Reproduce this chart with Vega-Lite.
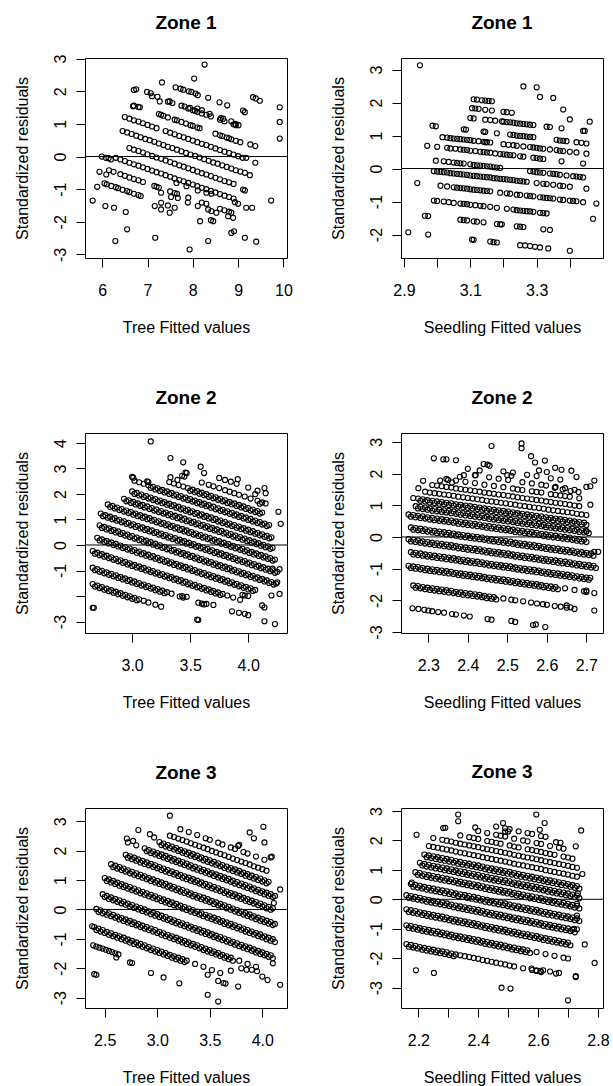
{
"$schema":"https://vega.github.io/schema/vega-lite/v6.json",
"background":"white",
"padding":{"left":13,"top":13,"right":5,"bottom":5},
"config":{
"font":"Liberation Sans",
"locale":{"number":{"decimal":".","thousands":",","grouping":[3],"currency":["$",""],"minus":"-"}},
"view":{"stroke":"black","strokeWidth":1},
"axis":{"domain":false,"grid":false,"ticks":true,"tickColor":"black","tickWidth":1,"tickSize":9,"labelFont":"Liberation Sans","labelFontSize":16,"labelColor":"black","titleFont":"Liberation Sans","titleFontSize":16,"titleFontWeight":"normal","titleColor":"black","labelFlush":false,"labelOverlap":false},
"axisX":{"labelPadding":15,"titlePadding":21},
"axisY":{"labelAngle":-90,"labelAlign":"center","labelBaseline":"alphabetic","labelPadding":11,"titlePadding":25,"titleBaseline":"alphabetic"},
"title":{"font":"Liberation Sans","fontSize":19,"fontWeight":"bold","color":"black","anchor":"middle","frame":"group","baseline":"alphabetic","offset":25},
"point":{"shape":"circle","filled":false,"color":"black","size":26,"strokeWidth":1.1,"opacity":1}
},
"columns":2,
"spacing":{"row":175,"column":114},
"bounds":"flush",
"datasets":{
"p1":[
{"x":8.26,"y":2.82},{"x":8.03,"y":2.39},{"x":7.32,"y":2.27},{"x":6.75,"y":2.06},{"x":6.99,"y":1.98},{"x":7.07,"y":1.94},{"x":7.22,"y":1.83},{"x":7.62,"y":2.12},{"x":7.73,"y":2.08},{"x":7.79,"y":2.05},{"x":7.91,"y":2.0},{"x":7.97,"y":1.98},{"x":8.06,"y":1.93},{"x":8.11,"y":1.88},{"x":8.34,"y":1.8},{"x":8.59,"y":1.66},{"x":8.76,"y":1.57},{"x":9.11,"y":1.41},{"x":9.15,"y":1.36},{"x":9.33,"y":1.82},{"x":9.39,"y":1.78},{"x":9.48,"y":1.71},{"x":9.92,"y":1.51},{"x":9.92,"y":1.06},{"x":9.92,"y":0.55},{"x":6.68,"y":1.54},{"x":6.83,"y":1.51},{"x":7.27,"y":1.69},{"x":7.49,"y":1.69},{"x":7.75,"y":1.56},{"x":7.82,"y":1.53},{"x":7.94,"y":1.49},{"x":8.1,"y":1.47},{"x":8.2,"y":1.42},{"x":8.37,"y":1.31},{"x":8.62,"y":1.18},{"x":8.67,"y":1.16},{"x":8.85,"y":1.08},{"x":8.94,"y":1.0},{"x":9.01,"y":0.96},{"x":9.27,"y":0.37},{"x":9.38,"y":0.32},{"x":9.38,"y":-0.19},{"x":9.18,"y":-0.04},{"x":9.15,"y":-0.5},{"x":9.26,"y":-0.57},{"x":9.73,"y":-1.35},{"x":9.18,"y":-1.57},{"x":9.31,"y":-1.57},{"x":9.15,"y":-2.49},{"x":9.4,"y":-2.61},{"x":8.91,"y":-2.29},{"x":8.85,"y":-2.34},{"x":8.89,"y":-1.88},{"x":8.78,"y":-1.83},{"x":8.34,"y":-2.59},{"x":7.93,"y":-2.85},{"x":7.17,"y":-2.49},{"x":6.29,"y":-2.59},{"x":6.55,"y":-2.23},{"x":6.52,"y":-1.7},{"x":6.26,"y":-1.57},{"x":6.07,"y":-1.52},{"x":5.79,"y":-1.35},{"x":5.89,"y":-0.93},{"x":5.94,"y":-0.47},{"x":5.99,"y":0},{"x":6.09,"y":-0.55},{"x":8.16,"y":-1.98},{"x":8.11,"y":-1.52},{"x":8.34,"y":-1.62},{"x":8.41,"y":-1.67},{"x":8.52,"y":-1.72},{"x":8.11,"y":-1.04},{"x":8.3,"y":-1.11},{"x":8.41,"y":-1.14},{"x":7.89,"y":-1.41},{"x":7.86,"y":-0.91},{"x":7.67,"y":-1.27},{"x":7.52,"y":-1.24},{"x":7.49,"y":-1.72},{"x":7.3,"y":-1.62},{"x":7.16,"y":-1.52},{"x":7.64,"y":-0.81},{"x":7.3,"y":-1.11},{"x":6.08,"y":-0.04},{"x":6.14,"y":-0.05},{"x":6.19,"y":-0.09},{"x":9.11,"y":-1.01},{"x":9.15,"y":-1.04},{"x":8.93,"y":-1.4},{"x":9.0,"y":-1.45},
{"x":6.5,"y":1.21},{"x":6.6,"y":1.16},{"x":6.7,"y":1.11},{"x":6.8,"y":1.07},{"x":6.9,"y":1.02},{"x":7.0,"y":0.97},{"x":7.1,"y":0.92},{"x":7.2,"y":0.87},{"x":7.4,"y":0.78},{"x":7.5,"y":0.73},{"x":7.6,"y":0.68},{"x":7.7,"y":0.63},{"x":7.8,"y":0.59},{"x":7.9,"y":0.54},{"x":8.0,"y":0.49},{"x":8.1,"y":0.44},{"x":8.2,"y":0.39},{"x":8.3,"y":0.35},{"x":8.4,"y":0.3},{"x":8.5,"y":0.25},{"x":8.6,"y":0.2},{"x":8.7,"y":0.15},{"x":8.8,"y":0.11},{"x":8.9,"y":0.06},{"x":9.0,"y":0.01},{"x":9.1,"y":-0.04},
{"x":6.45,"y":0.78},{"x":6.55,"y":0.74},{"x":6.65,"y":0.69},{"x":6.75,"y":0.64},{"x":6.85,"y":0.59},{"x":6.95,"y":0.54},{"x":7.05,"y":0.5},{"x":7.15,"y":0.45},{"x":7.25,"y":0.4},{"x":7.35,"y":0.35},{"x":7.45,"y":0.3},{"x":7.55,"y":0.26},{"x":7.65,"y":0.21},{"x":7.75,"y":0.16},{"x":7.85,"y":0.11},{"x":7.95,"y":0.06},{"x":8.05,"y":0.02},{"x":8.15,"y":-0.03},{"x":8.25,"y":-0.08},{"x":8.35,"y":-0.13},{"x":8.45,"y":-0.18},{"x":8.55,"y":-0.22},{"x":8.65,"y":-0.27},{"x":8.75,"y":-0.32},{"x":8.85,"y":-0.37},{"x":8.95,"y":-0.42},{"x":9.05,"y":-0.46},
{"x":6.6,"y":0.26},{"x":6.7,"y":0.21},{"x":6.8,"y":0.17},{"x":6.9,"y":0.12},{"x":7.0,"y":0.07},{"x":7.1,"y":0.02},{"x":7.2,"y":-0.03},{"x":7.3,"y":-0.07},{"x":7.4,"y":-0.12},{"x":7.5,"y":-0.17},{"x":7.6,"y":-0.22},{"x":7.7,"y":-0.27},{"x":7.8,"y":-0.31},{"x":7.9,"y":-0.36},{"x":8.0,"y":-0.41},{"x":8.1,"y":-0.46},{"x":8.2,"y":-0.51},{"x":8.3,"y":-0.55},{"x":8.4,"y":-0.6},{"x":8.5,"y":-0.65},{"x":8.6,"y":-0.7},{"x":8.7,"y":-0.75},{"x":8.8,"y":-0.79},{"x":8.9,"y":-0.84},
{"x":6.3,"y":-0.04},{"x":6.4,"y":-0.09},{"x":6.5,"y":-0.14},{"x":6.6,"y":-0.19},{"x":6.7,"y":-0.24},{"x":6.8,"y":-0.28},{"x":6.9,"y":-0.33},{"x":7.0,"y":-0.38},{"x":7.1,"y":-0.43},{"x":7.2,"y":-0.48},{"x":7.3,"y":-0.52},{"x":7.4,"y":-0.57},{"x":7.5,"y":-0.62},{"x":7.6,"y":-0.67},{"x":7.7,"y":-0.72},{"x":7.8,"y":-0.76},{"x":7.9,"y":-0.81},{"x":8.0,"y":-0.86},{"x":8.1,"y":-0.91},{"x":8.2,"y":-0.96},{"x":8.3,"y":-1.0},{"x":8.4,"y":-1.05},{"x":8.5,"y":-1.1},{"x":8.6,"y":-1.15},{"x":8.7,"y":-1.2},{"x":8.8,"y":-1.24},{"x":8.9,"y":-1.29},
{"x":6.15,"y":-0.42},{"x":6.25,"y":-0.47},{"x":6.4,"y":-0.54},{"x":6.5,"y":-0.59},{"x":6.6,"y":-0.64},{"x":6.7,"y":-0.69},{"x":6.8,"y":-0.73},{"x":6.9,"y":-0.78},{"x":7.15,"y":-0.9},{"x":7.2,"y":-0.93},{"x":7.25,"y":-0.95},{"x":7.5,"y":-1.07},{"x":7.6,"y":-1.12},{"x":7.65,"y":-1.14},{"x":7.9,"y":-1.26},{"x":8.2,"y":-1.41},{"x":8.3,"y":-1.45},{"x":8.6,"y":-1.6},{"x":8.7,"y":-1.65},{"x":8.8,"y":-1.69},{"x":8.85,"y":-1.72},
{"x":6.05,"y":-0.82},{"x":6.1,"y":-0.85},{"x":6.2,"y":-0.9},{"x":6.3,"y":-0.94},{"x":6.35,"y":-0.97},{"x":6.45,"y":-1.02},{"x":6.55,"y":-1.06},{"x":6.6,"y":-1.09},{"x":6.7,"y":-1.14},{"x":6.8,"y":-1.18},{"x":6.85,"y":-1.21},{"x":7.3,"y":-1.42},{"x":7.45,"y":-1.5},{"x":7.6,"y":-1.57},{"x":8.4,"y":-1.95},{"x":8.45,"y":-1.98},
{"x":6.7,"y":1.56},{"x":6.8,"y":1.52},{"x":7.25,"y":1.3},{"x":7.3,"y":1.28},{"x":7.35,"y":1.25},{"x":7.45,"y":1.2},{"x":7.6,"y":1.13},{"x":7.65,"y":1.11},{"x":7.75,"y":1.06},{"x":7.85,"y":1.01},{"x":7.95,"y":0.96},{"x":8.0,"y":0.94},{"x":8.1,"y":0.89},{"x":8.15,"y":0.87},{"x":8.5,"y":0.7},{"x":8.6,"y":0.65},{"x":8.65,"y":0.63},{"x":8.75,"y":0.58},{"x":8.8,"y":0.56},{"x":8.85,"y":0.53},{"x":8.95,"y":0.48},{"x":9.05,"y":0.44},
{"x":6.7,"y":2.04},{"x":7.1,"y":1.85},{"x":7.45,"y":1.68},{"x":7.55,"y":1.64},{"x":7.9,"y":1.47},{"x":8.0,"y":1.42},{"x":8.05,"y":1.4},{"x":8.1,"y":1.37},{"x":8.2,"y":1.32},{"x":8.3,"y":1.28},{"x":8.4,"y":1.23},{"x":8.6,"y":1.13},{"x":8.7,"y":1.08},{"x":8.9,"y":0.99},{"x":8.95,"y":0.96}
],
"p2":[
{"x":3.11,"y":2.1},{"x":3.12,"y":2.09},{"x":3.135,"y":2.07},{"x":3.145,"y":2.06},{"x":3.155,"y":2.05},{"x":3.165,"y":2.04},{"x":3.38,"y":1.79},
{"x":3.105,"y":1.83},{"x":3.115,"y":1.82},{"x":3.125,"y":1.81},{"x":3.145,"y":1.78},{"x":3.165,"y":1.76},{"x":3.2,"y":1.72},{"x":3.21,"y":1.71},{"x":3.225,"y":1.69},{"x":3.4,"y":1.49},{"x":3.46,"y":1.42},
{"x":3.1,"y":1.53},{"x":3.11,"y":1.52},{"x":3.145,"y":1.48},{"x":3.16,"y":1.47},{"x":3.175,"y":1.45},{"x":3.195,"y":1.43},{"x":3.2,"y":1.42},{"x":3.21,"y":1.41},{"x":3.22,"y":1.4},{"x":3.23,"y":1.39},{"x":3.24,"y":1.37},{"x":3.25,"y":1.36},{"x":3.26,"y":1.35},{"x":3.27,"y":1.34},{"x":3.28,"y":1.33},{"x":3.29,"y":1.32},{"x":3.33,"y":1.27},{"x":3.34,"y":1.26},{"x":3.375,"y":1.22},{"x":3.44,"y":1.14},{"x":3.445,"y":1.14},
{"x":2.986,"y":1.3},{"x":2.996,"y":1.28},{"x":3.08,"y":1.19},{"x":3.087,"y":1.18},{"x":3.14,"y":1.12},{"x":3.145,"y":1.11},{"x":3.18,"y":1.07},{"x":3.22,"y":1.03},{"x":3.23,"y":1.02},{"x":3.24,"y":1.0},{"x":3.25,"y":0.99},{"x":3.26,"y":0.98},{"x":3.27,"y":0.97},{"x":3.28,"y":0.96},{"x":3.29,"y":0.95},{"x":3.36,"y":0.87},{"x":3.37,"y":0.85},{"x":3.38,"y":0.84},{"x":3.39,"y":0.83},{"x":3.42,"y":0.8},{"x":3.435,"y":0.78},{"x":3.45,"y":0.76},
{"x":3.016,"y":0.95},{"x":3.03,"y":0.94},{"x":3.04,"y":0.92},{"x":3.05,"y":0.91},{"x":3.06,"y":0.9},{"x":3.07,"y":0.89},{"x":3.08,"y":0.88},{"x":3.09,"y":0.87},{"x":3.1,"y":0.86},{"x":3.11,"y":0.84},{"x":3.125,"y":0.83},{"x":3.14,"y":0.81},{"x":3.145,"y":0.8},{"x":3.15,"y":0.8},{"x":3.16,"y":0.79},{"x":3.2,"y":0.74},{"x":3.215,"y":0.72},{"x":3.23,"y":0.71},{"x":3.24,"y":0.69},{"x":3.26,"y":0.67},{"x":3.28,"y":0.65},{"x":3.29,"y":0.64},{"x":3.3,"y":0.63},{"x":3.31,"y":0.61},{"x":3.32,"y":0.6},{"x":3.34,"y":0.58},{"x":3.36,"y":0.56},{"x":3.37,"y":0.54},{"x":3.38,"y":0.53},{"x":3.4,"y":0.51},{"x":3.42,"y":0.49},{"x":3.45,"y":0.45},
{"x":2.97,"y":0.69},{"x":3.0,"y":0.66},{"x":3.03,"y":0.63},{"x":3.04,"y":0.61},{"x":3.055,"y":0.6},{"x":3.07,"y":0.58},{"x":3.08,"y":0.57},{"x":3.09,"y":0.56},{"x":3.1,"y":0.54},{"x":3.115,"y":0.53},{"x":3.13,"y":0.51},{"x":3.14,"y":0.5},{"x":3.15,"y":0.49},{"x":3.16,"y":0.48},{"x":3.175,"y":0.46},{"x":3.19,"y":0.44},{"x":3.2,"y":0.43},{"x":3.21,"y":0.42},{"x":3.22,"y":0.41},{"x":3.23,"y":0.4},{"x":3.25,"y":0.37},{"x":3.26,"y":0.36},{"x":3.29,"y":0.33},{"x":3.3,"y":0.32},{"x":3.31,"y":0.3},{"x":3.32,"y":0.29},{"x":3.375,"y":0.22},{"x":3.44,"y":0.15},
{"x":2.996,"y":0.24},{"x":3.02,"y":0.22},{"x":3.035,"y":0.2},{"x":3.05,"y":0.18},{"x":3.06,"y":0.17},{"x":3.07,"y":0.16},{"x":3.08,"y":0.15},{"x":3.1,"y":0.13},{"x":3.11,"y":0.11},{"x":3.12,"y":0.1},{"x":3.13,"y":0.09},{"x":3.14,"y":0.08},{"x":3.15,"y":0.07},{"x":3.16,"y":0.06},{"x":3.17,"y":0.04},{"x":3.18,"y":0.03},{"x":3.19,"y":0.02},{"x":3.28,"y":-0.08},{"x":3.29,"y":-0.09},{"x":3.3,"y":-0.11},{"x":3.31,"y":-0.12},{"x":3.32,"y":-0.13},{"x":3.34,"y":-0.15},{"x":3.35,"y":-0.16},{"x":3.36,"y":-0.17},{"x":3.37,"y":-0.19},{"x":3.39,"y":-0.21},{"x":3.41,"y":-0.23},{"x":3.42,"y":-0.24},{"x":3.43,"y":-0.25},{"x":3.44,"y":-0.27},
{"x":2.99,"y":-0.08},{"x":3.0,"y":-0.09},{"x":3.01,"y":-0.1},{"x":3.02,"y":-0.11},{"x":3.03,"y":-0.12},{"x":3.04,"y":-0.14},{"x":3.05,"y":-0.15},{"x":3.06,"y":-0.16},{"x":3.07,"y":-0.17},{"x":3.08,"y":-0.18},{"x":3.09,"y":-0.19},{"x":3.1,"y":-0.21},{"x":3.11,"y":-0.22},{"x":3.12,"y":-0.23},{"x":3.13,"y":-0.24},{"x":3.14,"y":-0.25},{"x":3.15,"y":-0.26},{"x":3.16,"y":-0.27},{"x":3.17,"y":-0.29},{"x":3.18,"y":-0.3},{"x":3.19,"y":-0.31},{"x":3.2,"y":-0.32},{"x":3.21,"y":-0.33},{"x":3.22,"y":-0.34},{"x":3.23,"y":-0.35},{"x":3.24,"y":-0.37},{"x":3.25,"y":-0.38},{"x":3.26,"y":-0.39},{"x":3.27,"y":-0.4},{"x":3.3,"y":-0.44},{"x":3.32,"y":-0.46},{"x":3.33,"y":-0.47},{"x":3.35,"y":-0.49},{"x":3.37,"y":-0.52},{"x":3.38,"y":-0.53},{"x":3.4,"y":-0.55},{"x":3.45,"y":-0.61},
{"x":2.94,"y":-0.44},{"x":3.01,"y":-0.52},{"x":3.03,"y":-0.54},{"x":3.05,"y":-0.57},{"x":3.06,"y":-0.58},{"x":3.07,"y":-0.59},{"x":3.08,"y":-0.6},{"x":3.09,"y":-0.61},{"x":3.1,"y":-0.63},{"x":3.11,"y":-0.64},{"x":3.12,"y":-0.65},{"x":3.13,"y":-0.66},{"x":3.14,"y":-0.67},{"x":3.15,"y":-0.68},{"x":3.16,"y":-0.69},{"x":3.19,"y":-0.73},{"x":3.21,"y":-0.75},{"x":3.22,"y":-0.76},{"x":3.24,"y":-0.79},{"x":3.25,"y":-0.8},{"x":3.27,"y":-0.82},{"x":3.28,"y":-0.83},{"x":3.29,"y":-0.84},{"x":3.31,"y":-0.87},{"x":3.32,"y":-0.88},{"x":3.33,"y":-0.89},{"x":3.34,"y":-0.9},{"x":3.35,"y":-0.91},{"x":3.37,"y":-0.94},{"x":3.38,"y":-0.95},{"x":3.4,"y":-0.97},{"x":3.41,"y":-0.98},{"x":3.42,"y":-0.99},{"x":3.44,"y":-1.02},{"x":3.48,"y":-1.06},
{"x":2.99,"y":-0.97},{"x":3.0,"y":-0.98},{"x":3.02,"y":-1.0},{"x":3.035,"y":-1.02},{"x":3.05,"y":-1.04},{"x":3.07,"y":-1.06},{"x":3.08,"y":-1.07},{"x":3.09,"y":-1.08},{"x":3.1,"y":-1.1},{"x":3.115,"y":-1.11},{"x":3.13,"y":-1.13},{"x":3.14,"y":-1.14},{"x":3.16,"y":-1.16},{"x":3.18,"y":-1.19},{"x":3.21,"y":-1.22},{"x":3.23,"y":-1.24},{"x":3.24,"y":-1.26},{"x":3.25,"y":-1.27},{"x":3.26,"y":-1.28},{"x":3.27,"y":-1.29},{"x":3.28,"y":-1.3},{"x":3.29,"y":-1.31},{"x":3.31,"y":-1.34},{"x":3.32,"y":-1.35},{"x":3.33,"y":-1.36},{"x":3.47,"y":-1.52},
{"x":2.963,"y":-1.43},{"x":2.973,"y":-1.44},{"x":3.07,"y":-1.55},{"x":3.08,"y":-1.56},{"x":3.09,"y":-1.57},{"x":3.11,"y":-1.6},{"x":3.12,"y":-1.61},{"x":3.14,"y":-1.63},{"x":3.18,"y":-1.68},{"x":3.19,"y":-1.69},{"x":3.195,"y":-1.69},{"x":3.24,"y":-1.75},{"x":3.25,"y":-1.76},{"x":3.26,"y":-1.77},{"x":3.32,"y":-1.84},{"x":3.34,"y":-1.86},
{"x":2.913,"y":-1.93},{"x":2.973,"y":-2.0},{"x":3.105,"y":-2.15},{"x":3.11,"y":-2.16},{"x":3.16,"y":-2.21},{"x":3.17,"y":-2.23},{"x":3.18,"y":-2.24},{"x":3.25,"y":-2.32},{"x":3.265,"y":-2.33},{"x":3.28,"y":-2.35},{"x":3.295,"y":-2.37},{"x":3.31,"y":-2.39},{"x":3.335,"y":-2.42},{"x":3.4,"y":-2.49},
{"x":2.948,"y":3.13},{"x":3.26,"y":2.49},{"x":3.3,"y":2.46},{"x":3.31,"y":2.17},{"x":3.35,"y":2.14}
],
"p3":[
{"x":2.66,"y":-1.53},{"x":2.7,"y":-1.59},{"x":2.74,"y":-1.65},{"x":2.78,"y":-1.71},{"x":2.82,"y":-1.77},{"x":2.86,"y":-1.83},{"x":2.9,"y":-1.89},{"x":2.94,"y":-1.95},{"x":2.98,"y":-2.01},{"x":3.02,"y":-2.07},{"x":3.06,"y":-2.13},{"x":3.1,"y":-2.19},{"x":3.14,"y":-2.25},{"x":3.2,"y":-2.34},{"x":3.25,"y":-2.42},{"x":2.66,"y":-2.46},{"x":2.67,"y":-2.46},
{"x":2.66,"y":-0.89},{"x":2.7,"y":-0.95},{"x":2.74,"y":-1.01},{"x":2.78,"y":-1.07},{"x":2.82,"y":-1.13},{"x":2.86,"y":-1.19},{"x":2.9,"y":-1.25},{"x":2.94,"y":-1.31},{"x":2.98,"y":-1.37},{"x":3.02,"y":-1.43},{"x":3.06,"y":-1.49},{"x":3.1,"y":-1.55},{"x":3.14,"y":-1.61},{"x":3.18,"y":-1.67},{"x":3.22,"y":-1.73},{"x":3.26,"y":-1.79},{"x":3.3,"y":-1.85},{"x":3.34,"y":-1.91},{"x":3.41,"y":-2.02},{"x":3.44,"y":-2.06},{"x":3.57,"y":-2.26},{"x":3.6,"y":-2.3},{"x":3.62,"y":-2.33},
{"x":2.66,"y":-0.24},{"x":2.7,"y":-0.3},{"x":2.74,"y":-0.36},{"x":2.78,"y":-0.42},{"x":2.82,"y":-0.48},{"x":2.86,"y":-0.54},{"x":2.9,"y":-0.6},{"x":2.94,"y":-0.66},{"x":2.98,"y":-0.72},{"x":3.02,"y":-0.78},{"x":3.06,"y":-0.84},{"x":3.1,"y":-0.9},{"x":3.14,"y":-0.96},{"x":3.18,"y":-1.02},{"x":3.22,"y":-1.08},{"x":3.26,"y":-1.14},{"x":3.3,"y":-1.2},{"x":3.34,"y":-1.26},{"x":3.38,"y":-1.32},{"x":3.42,"y":-1.38},{"x":3.46,"y":-1.44},{"x":3.5,"y":-1.5},{"x":3.54,"y":-1.56},{"x":3.58,"y":-1.62},{"x":3.62,"y":-1.68},{"x":3.66,"y":-1.74},{"x":3.7,"y":-1.8},{"x":3.74,"y":-1.86},{"x":3.78,"y":-1.92},{"x":3.82,"y":-1.98},{"x":3.87,"y":-2.06},{"x":3.93,"y":-2.15},
{"x":2.7,"y":0.28},{"x":2.74,"y":0.22},{"x":2.78,"y":0.16},{"x":2.82,"y":0.1},{"x":2.86,"y":0.04},{"x":2.9,"y":-0.02},{"x":2.94,"y":-0.08},{"x":2.98,"y":-0.14},{"x":3.02,"y":-0.2},{"x":3.06,"y":-0.26},{"x":3.1,"y":-0.32},{"x":3.14,"y":-0.38},{"x":3.18,"y":-0.44},{"x":3.22,"y":-0.5},{"x":3.26,"y":-0.56},{"x":3.3,"y":-0.62},{"x":3.34,"y":-0.68},{"x":3.38,"y":-0.74},{"x":3.42,"y":-0.8},{"x":3.46,"y":-0.86},{"x":3.5,"y":-0.92},{"x":3.54,"y":-0.98},{"x":3.58,"y":-1.04},{"x":3.62,"y":-1.1},{"x":3.66,"y":-1.16},{"x":3.7,"y":-1.22},{"x":3.74,"y":-1.28},{"x":3.78,"y":-1.34},{"x":3.82,"y":-1.4},{"x":3.86,"y":-1.46},{"x":3.9,"y":-1.52},{"x":3.94,"y":-1.58},{"x":3.98,"y":-1.64},{"x":4.02,"y":-1.7},{"x":4.06,"y":-1.76},
{"x":2.72,"y":0.77},{"x":2.76,"y":0.71},{"x":2.8,"y":0.65},{"x":2.84,"y":0.59},{"x":2.88,"y":0.53},{"x":2.92,"y":0.47},{"x":2.96,"y":0.41},{"x":3.0,"y":0.35},{"x":3.04,"y":0.29},{"x":3.08,"y":0.23},{"x":3.12,"y":0.17},{"x":3.16,"y":0.11},{"x":3.2,"y":0.05},{"x":3.24,"y":-0.01},{"x":3.28,"y":-0.07},{"x":3.32,"y":-0.13},{"x":3.36,"y":-0.19},{"x":3.4,"y":-0.25},{"x":3.44,"y":-0.31},{"x":3.48,"y":-0.37},{"x":3.52,"y":-0.43},{"x":3.56,"y":-0.49},{"x":3.6,"y":-0.55},{"x":3.64,"y":-0.61},{"x":3.68,"y":-0.67},{"x":3.72,"y":-0.73},{"x":3.76,"y":-0.79},{"x":3.8,"y":-0.85},{"x":3.84,"y":-0.91},{"x":3.88,"y":-0.97},{"x":3.92,"y":-1.03},{"x":3.96,"y":-1.09},{"x":4.0,"y":-1.15},{"x":4.04,"y":-1.21},{"x":4.08,"y":-1.27},{"x":4.12,"y":-1.33},{"x":4.16,"y":-1.39},{"x":4.2,"y":-1.45},{"x":4.24,"y":-1.51},
{"x":2.73,"y":1.23},{"x":2.77,"y":1.17},{"x":2.81,"y":1.11},{"x":2.85,"y":1.05},{"x":2.89,"y":0.99},{"x":2.93,"y":0.93},{"x":2.97,"y":0.87},{"x":3.01,"y":0.81},{"x":3.05,"y":0.75},{"x":3.09,"y":0.69},{"x":3.13,"y":0.63},{"x":3.17,"y":0.57},{"x":3.21,"y":0.51},{"x":3.25,"y":0.45},{"x":3.29,"y":0.39},{"x":3.33,"y":0.33},{"x":3.37,"y":0.27},{"x":3.41,"y":0.21},{"x":3.45,"y":0.15},{"x":3.49,"y":0.09},{"x":3.53,"y":0.03},{"x":3.57,"y":-0.03},{"x":3.61,"y":-0.09},{"x":3.65,"y":-0.15},{"x":3.69,"y":-0.21},{"x":3.73,"y":-0.27},{"x":3.77,"y":-0.33},{"x":3.81,"y":-0.39},{"x":3.85,"y":-0.45},{"x":3.89,"y":-0.51},{"x":3.93,"y":-0.57},{"x":3.97,"y":-0.63},{"x":4.01,"y":-0.69},{"x":4.05,"y":-0.75},{"x":4.09,"y":-0.81},{"x":4.13,"y":-0.87},{"x":4.17,"y":-0.93},{"x":4.21,"y":-0.99},{"x":4.25,"y":-1.05},
{"x":2.79,"y":1.59},{"x":2.83,"y":1.53},{"x":2.87,"y":1.47},{"x":2.91,"y":1.41},{"x":2.95,"y":1.35},{"x":2.99,"y":1.29},{"x":3.03,"y":1.23},{"x":3.07,"y":1.17},{"x":3.11,"y":1.11},{"x":3.15,"y":1.05},{"x":3.19,"y":0.99},{"x":3.23,"y":0.93},{"x":3.27,"y":0.87},{"x":3.31,"y":0.81},{"x":3.35,"y":0.75},{"x":3.39,"y":0.69},{"x":3.43,"y":0.63},{"x":3.47,"y":0.57},{"x":3.51,"y":0.51},{"x":3.55,"y":0.45},{"x":3.59,"y":0.39},{"x":3.63,"y":0.33},{"x":3.67,"y":0.27},{"x":3.71,"y":0.21},{"x":3.75,"y":0.15},{"x":3.79,"y":0.09},{"x":3.83,"y":0.03},{"x":3.87,"y":-0.03},{"x":3.91,"y":-0.09},{"x":3.95,"y":-0.15},{"x":3.99,"y":-0.21},{"x":4.03,"y":-0.27},{"x":4.07,"y":-0.33},{"x":4.11,"y":-0.39},{"x":4.15,"y":-0.45},{"x":4.19,"y":-0.51},{"x":4.23,"y":-0.57},
{"x":2.93,"y":1.81},{"x":2.97,"y":1.75},{"x":3.01,"y":1.69},{"x":3.05,"y":1.63},{"x":3.09,"y":1.57},{"x":3.13,"y":1.51},{"x":3.17,"y":1.45},{"x":3.21,"y":1.39},{"x":3.25,"y":1.33},{"x":3.29,"y":1.27},{"x":3.33,"y":1.21},{"x":3.37,"y":1.15},{"x":3.41,"y":1.09},{"x":3.45,"y":1.03},{"x":3.49,"y":0.97},{"x":3.53,"y":0.91},{"x":3.57,"y":0.85},{"x":3.61,"y":0.79},{"x":3.65,"y":0.73},{"x":3.69,"y":0.67},{"x":3.73,"y":0.61},{"x":3.77,"y":0.55},{"x":3.81,"y":0.49},{"x":3.85,"y":0.43},{"x":3.89,"y":0.37},{"x":3.93,"y":0.31},{"x":3.97,"y":0.25},{"x":4.01,"y":0.19},{"x":4.05,"y":0.13},{"x":4.09,"y":0.07},{"x":4.13,"y":0.01},{"x":4.17,"y":-0.05},{"x":4.21,"y":-0.11},
{"x":3.0,"y":2.1},{"x":3.04,"y":2.04},{"x":3.08,"y":1.98},{"x":3.12,"y":1.92},{"x":3.16,"y":1.86},{"x":3.2,"y":1.8},{"x":3.24,"y":1.74},{"x":3.28,"y":1.68},{"x":3.32,"y":1.62},{"x":3.36,"y":1.56},{"x":3.4,"y":1.5},{"x":3.44,"y":1.44},{"x":3.48,"y":1.38},{"x":3.52,"y":1.32},{"x":3.56,"y":1.26},{"x":3.6,"y":1.2},{"x":3.64,"y":1.14},{"x":3.68,"y":1.08},{"x":3.72,"y":1.02},{"x":3.76,"y":0.96},{"x":3.8,"y":0.9},{"x":3.84,"y":0.84},{"x":3.88,"y":0.78},{"x":3.92,"y":0.72},{"x":3.96,"y":0.66},{"x":4.0,"y":0.6},{"x":4.04,"y":0.54},{"x":4.08,"y":0.48},{"x":4.12,"y":0.42},{"x":4.16,"y":0.36},{"x":4.2,"y":0.3},
{"x":3.02,"y":2.52},{"x":3.06,"y":2.46},{"x":3.1,"y":2.4},{"x":3.14,"y":2.34},{"x":3.18,"y":2.28},{"x":3.22,"y":2.22},{"x":3.26,"y":2.16},{"x":3.3,"y":2.1},{"x":3.34,"y":2.04},{"x":3.38,"y":1.98},{"x":3.42,"y":1.92},{"x":3.46,"y":1.86},{"x":3.5,"y":1.8},{"x":3.54,"y":1.74},{"x":3.58,"y":1.68},{"x":3.62,"y":1.62},{"x":3.66,"y":1.56},{"x":3.7,"y":1.5},{"x":3.74,"y":1.44},{"x":3.78,"y":1.38},{"x":3.82,"y":1.32},{"x":3.86,"y":1.26},{"x":3.9,"y":1.2},{"x":3.94,"y":1.14},{"x":3.98,"y":1.08},{"x":4.02,"y":1.02},{"x":4.06,"y":0.96},{"x":4.1,"y":0.9},{"x":4.14,"y":0.84},{"x":4.18,"y":0.78},
{"x":3.32,"y":2.47},{"x":3.36,"y":2.41},{"x":3.4,"y":2.35},{"x":3.44,"y":2.29},{"x":3.48,"y":2.23},{"x":3.52,"y":2.17},{"x":3.56,"y":2.11},{"x":3.6,"y":2.05},{"x":3.64,"y":1.99},{"x":3.68,"y":1.93},{"x":3.72,"y":1.87},{"x":3.76,"y":1.81},{"x":3.8,"y":1.75},{"x":3.84,"y":1.69},{"x":3.88,"y":1.63},{"x":3.92,"y":1.57},{"x":3.96,"y":1.51},{"x":4.0,"y":1.45},{"x":4.04,"y":1.39},{"x":4.08,"y":1.33},{"x":4.12,"y":1.27},
{"x":3.43,"y":2.71},{"x":3.45,"y":2.68},{"x":3.6,"y":2.45},{"x":3.66,"y":2.36},{"x":3.7,"y":2.3},{"x":3.75,"y":2.23},{"x":3.8,"y":2.15},{"x":3.84,"y":2.09},{"x":3.88,"y":2.03},{"x":3.92,"y":1.97},{"x":3.97,"y":1.9},{"x":4.02,"y":1.82},{"x":4.08,"y":1.73},{"x":4.12,"y":1.67},{"x":4.15,"y":1.63},
{"x":3.62,"y":2.82},{"x":3.75,"y":2.63},{"x":3.8,"y":2.55},{"x":3.85,"y":2.48},{"x":3.9,"y":2.4},{"x":4.0,"y":2.25},{"x":4.08,"y":2.13},{"x":4.15,"y":2.03},
{"x":3.16,"y":4.06},{"x":3.33,"y":3.41},{"x":3.44,"y":3.24},{"x":3.59,"y":3.07},{"x":3.33,"y":2.66},{"x":3.0,"y":2.67},{"x":3.01,"y":2.64},{"x":3.13,"y":2.49},{"x":3.14,"y":2.47},{"x":3.46,"y":2.84},{"x":3.47,"y":2.82},{"x":3.39,"y":2.55},{"x":3.91,"y":2.58},{"x":4.14,"y":2.23},{"x":4.06,"y":1.99},{"x":4.1,"y":1.62},{"x":4.26,"y":1.3},{"x":4.28,"y":0.83},{"x":3.43,"y":-2.0},{"x":3.47,"y":-2.03},{"x":3.56,"y":-2.92},{"x":3.57,"y":-2.94},{"x":3.86,"y":-2.6},{"x":3.92,"y":-2.66},{"x":3.97,"y":-2.7},{"x":4.0,"y":-2.75},{"x":4.12,"y":-2.37},{"x":4.14,"y":-2.45},{"x":4.14,"y":-2.99},{"x":4.23,"y":-3.1},{"x":4.2,"y":-1.98},{"x":4.27,"y":-1.92},{"x":4.25,"y":-1.46},{"x":4.21,"y":-0.93},{"x":4.27,"y":-0.95},{"x":3.64,"y":-2.31},{"x":3.7,"y":-2.35},{"x":3.95,"y":-1.95},{"x":3.97,"y":-1.98},{"x":4.0,"y":-2.0},
{"x":2.68,"y":-1.63},{"x":2.72,"y":-1.69},{"x":2.76,"y":-1.75},{"x":2.8,"y":-1.81},{"x":2.84,"y":-1.87},{"x":2.88,"y":-1.93},{"x":2.92,"y":-1.99},{"x":2.96,"y":-2.05},{"x":3.0,"y":-2.11},{"x":3.04,"y":-2.17},
{"x":2.68,"y":-0.99},{"x":2.72,"y":-1.05},{"x":2.76,"y":-1.11},{"x":2.8,"y":-1.17},{"x":2.84,"y":-1.23},{"x":2.88,"y":-1.29},{"x":2.92,"y":-1.35},{"x":2.96,"y":-1.41},{"x":3.0,"y":-1.47},{"x":3.04,"y":-1.53},{"x":3.08,"y":-1.59},{"x":3.12,"y":-1.65},{"x":3.16,"y":-1.71},{"x":3.2,"y":-1.77},{"x":3.24,"y":-1.83},{"x":3.28,"y":-1.89},
{"x":2.68,"y":-0.34},{"x":2.72,"y":-0.4},{"x":2.76,"y":-0.46},{"x":2.8,"y":-0.52},{"x":2.84,"y":-0.58},{"x":2.88,"y":-0.64},{"x":2.92,"y":-0.7},{"x":2.96,"y":-0.76},{"x":3.0,"y":-0.82},{"x":3.04,"y":-0.88},{"x":3.08,"y":-0.94},{"x":3.12,"y":-1.0},{"x":3.16,"y":-1.06},{"x":3.2,"y":-1.12},{"x":3.24,"y":-1.18},{"x":3.28,"y":-1.24},{"x":3.32,"y":-1.3},{"x":3.36,"y":-1.36},{"x":3.4,"y":-1.42},{"x":3.44,"y":-1.48},{"x":3.48,"y":-1.54},{"x":3.52,"y":-1.6},{"x":3.56,"y":-1.66},{"x":3.6,"y":-1.72},{"x":3.64,"y":-1.78},{"x":3.68,"y":-1.84},{"x":3.72,"y":-1.9},{"x":3.76,"y":-1.96},
{"x":2.72,"y":0.18},{"x":2.76,"y":0.12},{"x":2.8,"y":0.06},{"x":2.84,"y":0},{"x":2.88,"y":-0.06},{"x":2.92,"y":-0.12},{"x":2.96,"y":-0.18},{"x":3.0,"y":-0.24},{"x":3.04,"y":-0.3},{"x":3.08,"y":-0.36},{"x":3.12,"y":-0.42},{"x":3.16,"y":-0.48},{"x":3.2,"y":-0.54},{"x":3.24,"y":-0.6},{"x":3.28,"y":-0.66},{"x":3.32,"y":-0.72},{"x":3.36,"y":-0.78},{"x":3.4,"y":-0.84},{"x":3.44,"y":-0.9},{"x":3.48,"y":-0.96},{"x":3.52,"y":-1.02},{"x":3.56,"y":-1.08},{"x":3.6,"y":-1.14},{"x":3.64,"y":-1.2},{"x":3.68,"y":-1.26},{"x":3.72,"y":-1.32},{"x":3.76,"y":-1.38},{"x":3.8,"y":-1.44},{"x":3.84,"y":-1.5},{"x":3.88,"y":-1.56},{"x":3.92,"y":-1.62},{"x":3.96,"y":-1.68},{"x":4.0,"y":-1.74},{"x":4.04,"y":-1.8},
{"x":2.74,"y":0.67},{"x":2.78,"y":0.61},{"x":2.82,"y":0.55},{"x":2.86,"y":0.49},{"x":2.9,"y":0.43},{"x":2.94,"y":0.37},{"x":2.98,"y":0.31},{"x":3.02,"y":0.25},{"x":3.06,"y":0.19},{"x":3.1,"y":0.13},{"x":3.14,"y":0.07},{"x":3.18,"y":0.01},{"x":3.22,"y":-0.05},{"x":3.26,"y":-0.11},{"x":3.3,"y":-0.17},{"x":3.34,"y":-0.23},{"x":3.38,"y":-0.29},{"x":3.42,"y":-0.35},{"x":3.46,"y":-0.41},{"x":3.5,"y":-0.47},{"x":3.54,"y":-0.53},{"x":3.58,"y":-0.59},{"x":3.62,"y":-0.65},{"x":3.66,"y":-0.71},{"x":3.7,"y":-0.77},{"x":3.74,"y":-0.83},{"x":3.78,"y":-0.89},{"x":3.82,"y":-0.95},{"x":3.86,"y":-1.01},{"x":3.9,"y":-1.07},{"x":3.94,"y":-1.13},{"x":3.98,"y":-1.19},{"x":4.02,"y":-1.25},{"x":4.06,"y":-1.31},{"x":4.1,"y":-1.37},{"x":4.14,"y":-1.43},{"x":4.18,"y":-1.49},{"x":4.22,"y":-1.55},
{"x":2.75,"y":1.13},{"x":2.79,"y":1.07},{"x":2.83,"y":1.01},{"x":2.87,"y":0.95},{"x":2.91,"y":0.89},{"x":2.95,"y":0.83},{"x":2.99,"y":0.77},{"x":3.03,"y":0.71},{"x":3.07,"y":0.65},{"x":3.11,"y":0.59},{"x":3.15,"y":0.53},{"x":3.19,"y":0.47},{"x":3.23,"y":0.41},{"x":3.27,"y":0.35},{"x":3.31,"y":0.29},{"x":3.35,"y":0.23},{"x":3.39,"y":0.17},{"x":3.43,"y":0.11},{"x":3.47,"y":0.05},{"x":3.51,"y":-0.01},{"x":3.55,"y":-0.07},{"x":3.59,"y":-0.13},{"x":3.63,"y":-0.19},{"x":3.67,"y":-0.25},{"x":3.71,"y":-0.31},{"x":3.75,"y":-0.37},{"x":3.79,"y":-0.43},{"x":3.83,"y":-0.49},{"x":3.87,"y":-0.55},{"x":3.91,"y":-0.61},{"x":3.95,"y":-0.67},{"x":3.99,"y":-0.73},{"x":4.03,"y":-0.79},{"x":4.07,"y":-0.85},{"x":4.11,"y":-0.91},{"x":4.15,"y":-0.97},{"x":4.19,"y":-1.03},{"x":4.23,"y":-1.09},
{"x":2.81,"y":1.49},{"x":2.85,"y":1.43},{"x":2.89,"y":1.37},{"x":2.93,"y":1.31},{"x":2.97,"y":1.25},{"x":3.01,"y":1.19},{"x":3.05,"y":1.13},{"x":3.09,"y":1.07},{"x":3.13,"y":1.01},{"x":3.17,"y":0.95},{"x":3.21,"y":0.89},{"x":3.25,"y":0.83},{"x":3.29,"y":0.77},{"x":3.33,"y":0.71},{"x":3.37,"y":0.65},{"x":3.41,"y":0.59},{"x":3.45,"y":0.53},{"x":3.49,"y":0.47},{"x":3.53,"y":0.41},{"x":3.57,"y":0.35},{"x":3.61,"y":0.29},{"x":3.65,"y":0.23},{"x":3.69,"y":0.17},{"x":3.73,"y":0.11},{"x":3.77,"y":0.05},{"x":3.81,"y":-0.01},{"x":3.85,"y":-0.07},{"x":3.89,"y":-0.13},{"x":3.93,"y":-0.19},{"x":3.97,"y":-0.25},{"x":4.01,"y":-0.31},{"x":4.05,"y":-0.37},{"x":4.09,"y":-0.43},{"x":4.13,"y":-0.49},{"x":4.17,"y":-0.55},{"x":4.21,"y":-0.61},
{"x":2.95,"y":1.71},{"x":2.99,"y":1.65},{"x":3.03,"y":1.59},{"x":3.07,"y":1.53},{"x":3.11,"y":1.47},{"x":3.15,"y":1.41},{"x":3.19,"y":1.35},{"x":3.23,"y":1.29},{"x":3.27,"y":1.23},{"x":3.31,"y":1.17},{"x":3.35,"y":1.11},{"x":3.39,"y":1.05},{"x":3.43,"y":0.99},{"x":3.47,"y":0.93},{"x":3.51,"y":0.87},{"x":3.55,"y":0.81},{"x":3.59,"y":0.75},{"x":3.63,"y":0.69},{"x":3.67,"y":0.63},{"x":3.71,"y":0.57},{"x":3.75,"y":0.51},{"x":3.79,"y":0.45},{"x":3.83,"y":0.39},{"x":3.87,"y":0.33},{"x":3.91,"y":0.27},{"x":3.95,"y":0.21},{"x":3.99,"y":0.15},{"x":4.03,"y":0.09},{"x":4.07,"y":0.03},{"x":4.11,"y":-0.03},{"x":4.15,"y":-0.09},{"x":4.19,"y":-0.15},
{"x":3.02,"y":2.0},{"x":3.06,"y":1.94},{"x":3.1,"y":1.88},{"x":3.14,"y":1.82},{"x":3.18,"y":1.76},{"x":3.22,"y":1.7},{"x":3.26,"y":1.64},{"x":3.3,"y":1.58},{"x":3.34,"y":1.52},{"x":3.38,"y":1.46},{"x":3.42,"y":1.4},{"x":3.46,"y":1.34},{"x":3.5,"y":1.28},{"x":3.54,"y":1.22},{"x":3.58,"y":1.16},{"x":3.62,"y":1.1},{"x":3.66,"y":1.04},{"x":3.7,"y":0.98},{"x":3.74,"y":0.92},{"x":3.78,"y":0.86},{"x":3.82,"y":0.8},{"x":3.86,"y":0.74},{"x":3.9,"y":0.68},{"x":3.94,"y":0.62},{"x":3.98,"y":0.56},{"x":4.02,"y":0.5},{"x":4.06,"y":0.44},{"x":4.1,"y":0.38},{"x":4.14,"y":0.32},{"x":4.18,"y":0.26},
{"x":3.16,"y":2.24},{"x":3.2,"y":2.18},{"x":3.24,"y":2.12},{"x":3.28,"y":2.06},{"x":3.32,"y":2.0},{"x":3.36,"y":1.94},{"x":3.4,"y":1.88},{"x":3.44,"y":1.82},{"x":3.48,"y":1.76},{"x":3.52,"y":1.7},{"x":3.56,"y":1.64},{"x":3.6,"y":1.58},{"x":3.64,"y":1.52},{"x":3.68,"y":1.46},{"x":3.72,"y":1.4},{"x":3.76,"y":1.34},{"x":3.8,"y":1.28},{"x":3.84,"y":1.22},{"x":3.88,"y":1.16},{"x":3.92,"y":1.1},{"x":3.96,"y":1.04},{"x":4.0,"y":0.98},{"x":4.04,"y":0.92},{"x":4.08,"y":0.86},{"x":4.12,"y":0.8},{"x":4.16,"y":0.74},
{"x":3.5,"y":2.13},{"x":3.54,"y":2.07},{"x":3.58,"y":2.01},{"x":3.62,"y":1.95},{"x":3.66,"y":1.89},{"x":3.7,"y":1.83},{"x":3.74,"y":1.77},{"x":3.78,"y":1.71},{"x":3.82,"y":1.65},{"x":3.86,"y":1.59},{"x":3.9,"y":1.53},{"x":3.94,"y":1.47},{"x":3.98,"y":1.41},{"x":4.02,"y":1.35},{"x":4.06,"y":1.29},{"x":4.1,"y":1.23}
],
"p4":[
{"x":2.26,"y":-2.25},{"x":2.275,"y":-2.27},{"x":2.29,"y":-2.3},{"x":2.3,"y":-2.32},{"x":2.31,"y":-2.34},{"x":2.325,"y":-2.37},{"x":2.34,"y":-2.39},{"x":2.36,"y":-2.43},{"x":2.37,"y":-2.45},{"x":2.39,"y":-2.48},{"x":2.405,"y":-2.51},{"x":2.45,"y":-2.59},{"x":2.46,"y":-2.61},{"x":2.51,"y":-2.65},{"x":2.52,"y":-2.68},{"x":2.565,"y":-2.78},{"x":2.572,"y":-2.76},{"x":2.596,"y":-2.84},
{"x":2.262,"y":-1.53},{"x":2.274,"y":-1.55},{"x":2.286,"y":-1.58},{"x":2.298,"y":-1.6},{"x":2.31,"y":-1.62},{"x":2.322,"y":-1.64},{"x":2.334,"y":-1.66},{"x":2.346,"y":-1.68},{"x":2.358,"y":-1.7},{"x":2.37,"y":-1.73},{"x":2.382,"y":-1.75},{"x":2.394,"y":-1.77},{"x":2.406,"y":-1.79},{"x":2.418,"y":-1.81},{"x":2.43,"y":-1.83},{"x":2.442,"y":-1.86},{"x":2.454,"y":-1.88},{"x":2.466,"y":-1.9},{"x":2.49,"y":-1.94},{"x":2.51,"y":-1.98},{"x":2.52,"y":-2.0},{"x":2.54,"y":-2.03},{"x":2.56,"y":-2.07},{"x":2.575,"y":-2.1},{"x":2.59,"y":-2.12},{"x":2.6,"y":-2.14},{"x":2.62,"y":-2.18},{"x":2.635,"y":-2.2},{"x":2.65,"y":-2.23},{"x":2.67,"y":-2.27},
{"x":2.25,"y":-0.91},{"x":2.262,"y":-0.93},{"x":2.274,"y":-0.95},{"x":2.286,"y":-0.98},{"x":2.298,"y":-1.0},{"x":2.31,"y":-1.02},{"x":2.322,"y":-1.04},{"x":2.334,"y":-1.06},{"x":2.346,"y":-1.08},{"x":2.358,"y":-1.1},{"x":2.37,"y":-1.13},{"x":2.382,"y":-1.15},{"x":2.394,"y":-1.17},{"x":2.406,"y":-1.19},{"x":2.418,"y":-1.21},{"x":2.43,"y":-1.23},{"x":2.442,"y":-1.26},{"x":2.454,"y":-1.28},{"x":2.466,"y":-1.3},{"x":2.478,"y":-1.32},{"x":2.49,"y":-1.34},{"x":2.502,"y":-1.36},{"x":2.514,"y":-1.39},{"x":2.526,"y":-1.41},{"x":2.538,"y":-1.43},{"x":2.55,"y":-1.45},{"x":2.562,"y":-1.47},{"x":2.574,"y":-1.49},{"x":2.586,"y":-1.52},{"x":2.598,"y":-1.54},{"x":2.61,"y":-1.56},{"x":2.622,"y":-1.58},{"x":2.646,"y":-1.62},{"x":2.67,"y":-1.67},{"x":2.694,"y":-1.71},
{"x":2.256,"y":-0.48},{"x":2.268,"y":-0.5},{"x":2.28,"y":-0.52},{"x":2.292,"y":-0.55},{"x":2.304,"y":-0.57},{"x":2.316,"y":-0.59},{"x":2.328,"y":-0.61},{"x":2.34,"y":-0.63},{"x":2.352,"y":-0.65},{"x":2.364,"y":-0.67},{"x":2.376,"y":-0.7},{"x":2.388,"y":-0.72},{"x":2.4,"y":-0.74},{"x":2.412,"y":-0.76},{"x":2.424,"y":-0.78},{"x":2.436,"y":-0.8},{"x":2.448,"y":-0.83},{"x":2.46,"y":-0.85},{"x":2.472,"y":-0.87},{"x":2.484,"y":-0.89},{"x":2.496,"y":-0.91},{"x":2.508,"y":-0.93},{"x":2.52,"y":-0.96},{"x":2.532,"y":-0.98},{"x":2.544,"y":-1.0},{"x":2.556,"y":-1.02},{"x":2.568,"y":-1.04},{"x":2.58,"y":-1.06},{"x":2.592,"y":-1.09},{"x":2.604,"y":-1.11},{"x":2.616,"y":-1.13},{"x":2.628,"y":-1.15},{"x":2.64,"y":-1.17},{"x":2.652,"y":-1.19},{"x":2.664,"y":-1.21},{"x":2.676,"y":-1.24},{"x":2.688,"y":-1.26},{"x":2.7,"y":-1.28},
{"x":2.25,"y":-0.07},{"x":2.262,"y":-0.09},{"x":2.274,"y":-0.11},{"x":2.286,"y":-0.14},{"x":2.298,"y":-0.16},{"x":2.31,"y":-0.18},{"x":2.322,"y":-0.2},{"x":2.334,"y":-0.22},{"x":2.346,"y":-0.24},{"x":2.358,"y":-0.26},{"x":2.37,"y":-0.29},{"x":2.382,"y":-0.31},{"x":2.394,"y":-0.33},{"x":2.406,"y":-0.35},{"x":2.418,"y":-0.37},{"x":2.43,"y":-0.39},{"x":2.442,"y":-0.42},{"x":2.454,"y":-0.44},{"x":2.466,"y":-0.46},{"x":2.478,"y":-0.48},{"x":2.49,"y":-0.5},{"x":2.502,"y":-0.52},{"x":2.514,"y":-0.55},{"x":2.526,"y":-0.57},{"x":2.538,"y":-0.59},{"x":2.55,"y":-0.61},{"x":2.562,"y":-0.63},{"x":2.574,"y":-0.65},{"x":2.586,"y":-0.68},{"x":2.598,"y":-0.7},{"x":2.61,"y":-0.72},{"x":2.622,"y":-0.74},{"x":2.634,"y":-0.76},{"x":2.646,"y":-0.78},{"x":2.658,"y":-0.8},{"x":2.67,"y":-0.83},{"x":2.682,"y":-0.85},{"x":2.694,"y":-0.87},{"x":2.706,"y":-0.89},{"x":2.718,"y":-0.91},
{"x":2.256,"y":0.3},{"x":2.268,"y":0.28},{"x":2.28,"y":0.26},{"x":2.292,"y":0.24},{"x":2.304,"y":0.21},{"x":2.316,"y":0.19},{"x":2.328,"y":0.17},{"x":2.34,"y":0.15},{"x":2.352,"y":0.13},{"x":2.364,"y":0.11},{"x":2.376,"y":0.08},{"x":2.388,"y":0.06},{"x":2.4,"y":0.04},{"x":2.412,"y":0.02},{"x":2.424,"y":0},{"x":2.436,"y":-0.02},{"x":2.448,"y":-0.05},{"x":2.46,"y":-0.07},{"x":2.472,"y":-0.09},{"x":2.484,"y":-0.11},{"x":2.496,"y":-0.13},{"x":2.508,"y":-0.15},{"x":2.52,"y":-0.18},{"x":2.532,"y":-0.2},{"x":2.544,"y":-0.22},{"x":2.556,"y":-0.24},{"x":2.568,"y":-0.26},{"x":2.58,"y":-0.28},{"x":2.592,"y":-0.31},{"x":2.604,"y":-0.33},{"x":2.616,"y":-0.35},{"x":2.628,"y":-0.37},{"x":2.64,"y":-0.39},{"x":2.652,"y":-0.41},{"x":2.664,"y":-0.43},{"x":2.676,"y":-0.46},{"x":2.688,"y":-0.48},{"x":2.7,"y":-0.5},{"x":2.712,"y":-0.52},
{"x":2.25,"y":0.71},{"x":2.262,"y":0.69},{"x":2.274,"y":0.67},{"x":2.286,"y":0.65},{"x":2.298,"y":0.62},{"x":2.31,"y":0.6},{"x":2.322,"y":0.58},{"x":2.334,"y":0.56},{"x":2.346,"y":0.54},{"x":2.358,"y":0.52},{"x":2.37,"y":0.49},{"x":2.382,"y":0.47},{"x":2.394,"y":0.45},{"x":2.406,"y":0.43},{"x":2.418,"y":0.41},{"x":2.43,"y":0.39},{"x":2.442,"y":0.36},{"x":2.454,"y":0.34},{"x":2.466,"y":0.32},{"x":2.478,"y":0.3},{"x":2.49,"y":0.28},{"x":2.502,"y":0.26},{"x":2.514,"y":0.23},{"x":2.526,"y":0.21},{"x":2.538,"y":0.19},{"x":2.55,"y":0.17},{"x":2.562,"y":0.15},{"x":2.574,"y":0.13},{"x":2.586,"y":0.1},{"x":2.598,"y":0.08},{"x":2.61,"y":0.06},{"x":2.622,"y":0.04},{"x":2.634,"y":0.02},{"x":2.646,"y":0},{"x":2.658,"y":-0.02},{"x":2.67,"y":-0.05},{"x":2.682,"y":-0.07},{"x":2.694,"y":-0.09},
{"x":2.268,"y":0.97},{"x":2.28,"y":0.95},{"x":2.292,"y":0.93},{"x":2.304,"y":0.9},{"x":2.316,"y":0.88},{"x":2.328,"y":0.86},{"x":2.34,"y":0.84},{"x":2.352,"y":0.82},{"x":2.364,"y":0.8},{"x":2.376,"y":0.77},{"x":2.388,"y":0.75},{"x":2.4,"y":0.73},{"x":2.412,"y":0.71},{"x":2.424,"y":0.69},{"x":2.436,"y":0.67},{"x":2.448,"y":0.64},{"x":2.46,"y":0.62},{"x":2.472,"y":0.6},{"x":2.484,"y":0.58},{"x":2.496,"y":0.56},{"x":2.508,"y":0.54},{"x":2.52,"y":0.51},{"x":2.532,"y":0.49},{"x":2.544,"y":0.47},{"x":2.556,"y":0.45},{"x":2.568,"y":0.43},{"x":2.58,"y":0.41},{"x":2.592,"y":0.38},{"x":2.604,"y":0.36},{"x":2.616,"y":0.34},{"x":2.628,"y":0.32},{"x":2.64,"y":0.3},{"x":2.652,"y":0.28},{"x":2.664,"y":0.26},{"x":2.676,"y":0.23},{"x":2.688,"y":0.21},{"x":2.7,"y":0.19},
{"x":2.274,"y":1.21},{"x":2.286,"y":1.19},{"x":2.298,"y":1.16},{"x":2.31,"y":1.14},{"x":2.322,"y":1.12},{"x":2.334,"y":1.1},{"x":2.346,"y":1.08},{"x":2.358,"y":1.06},{"x":2.37,"y":1.03},{"x":2.382,"y":1.01},{"x":2.394,"y":0.99},{"x":2.406,"y":0.97},{"x":2.418,"y":0.95},{"x":2.43,"y":0.93},{"x":2.442,"y":0.9},{"x":2.454,"y":0.88},{"x":2.466,"y":0.86},{"x":2.478,"y":0.84},{"x":2.49,"y":0.82},{"x":2.502,"y":0.8},{"x":2.514,"y":0.78},{"x":2.526,"y":0.75},{"x":2.538,"y":0.73},{"x":2.55,"y":0.71},{"x":2.562,"y":0.69},{"x":2.574,"y":0.67},{"x":2.586,"y":0.65},{"x":2.598,"y":0.62},{"x":2.61,"y":0.6},{"x":2.622,"y":0.58},{"x":2.634,"y":0.56},{"x":2.646,"y":0.54},{"x":2.658,"y":0.52},{"x":2.67,"y":0.49},{"x":2.682,"y":0.47},{"x":2.694,"y":0.45},
{"x":2.292,"y":1.43},{"x":2.304,"y":1.4},{"x":2.316,"y":1.38},{"x":2.328,"y":1.36},{"x":2.34,"y":1.34},{"x":2.352,"y":1.32},{"x":2.364,"y":1.3},{"x":2.376,"y":1.27},{"x":2.388,"y":1.25},{"x":2.4,"y":1.23},{"x":2.412,"y":1.21},{"x":2.424,"y":1.19},{"x":2.436,"y":1.17},{"x":2.448,"y":1.14},{"x":2.46,"y":1.12},{"x":2.472,"y":1.1},{"x":2.484,"y":1.08},{"x":2.496,"y":1.06},{"x":2.508,"y":1.04},{"x":2.52,"y":1.02},{"x":2.532,"y":0.99},{"x":2.544,"y":0.97},{"x":2.556,"y":0.95},{"x":2.568,"y":0.93},{"x":2.58,"y":0.91},{"x":2.592,"y":0.89},{"x":2.604,"y":0.86},{"x":2.616,"y":0.84},{"x":2.628,"y":0.82},{"x":2.64,"y":0.8},{"x":2.652,"y":0.78},{"x":2.664,"y":0.76},{"x":2.676,"y":0.73},{"x":2.688,"y":0.71},{"x":2.7,"y":0.69},
{"x":2.31,"y":1.64},{"x":2.322,"y":1.62},{"x":2.334,"y":1.6},{"x":2.346,"y":1.58},{"x":2.358,"y":1.56},{"x":2.37,"y":1.53},{"x":2.382,"y":1.51},{"x":2.394,"y":1.49},{"x":2.406,"y":1.47},{"x":2.418,"y":1.45},{"x":2.43,"y":1.43},{"x":2.442,"y":1.4},{"x":2.454,"y":1.38},{"x":2.466,"y":1.36},{"x":2.478,"y":1.34},{"x":2.49,"y":1.32},{"x":2.502,"y":1.3},{"x":2.514,"y":1.28},{"x":2.526,"y":1.25},{"x":2.538,"y":1.23},{"x":2.55,"y":1.21},{"x":2.562,"y":1.19},{"x":2.574,"y":1.17},{"x":2.586,"y":1.15},{"x":2.598,"y":1.12},{"x":2.61,"y":1.1},{"x":2.622,"y":1.08},{"x":2.634,"y":1.06},{"x":2.646,"y":1.04},{"x":2.658,"y":1.02},{"x":2.67,"y":0.99},{"x":2.682,"y":0.97},
{"x":2.346,"y":1.83},{"x":2.37,"y":1.78},{"x":2.394,"y":1.74},{"x":2.418,"y":1.7},{"x":2.442,"y":1.65},{"x":2.466,"y":1.61},{"x":2.49,"y":1.57},{"x":2.514,"y":1.53},{"x":2.526,"y":1.5},{"x":2.538,"y":1.48},{"x":2.562,"y":1.44},{"x":2.574,"y":1.42},{"x":2.586,"y":1.4},{"x":2.61,"y":1.35},{"x":2.622,"y":1.33},{"x":2.634,"y":1.31},{"x":2.646,"y":1.29},{"x":2.658,"y":1.27},{"x":2.682,"y":1.22},
{"x":2.418,"y":1.95},{"x":2.454,"y":1.88},{"x":2.478,"y":1.84},{"x":2.502,"y":1.8},{"x":2.538,"y":1.73},{"x":2.562,"y":1.69},{"x":2.586,"y":1.65},{"x":2.598,"y":1.62},{"x":2.622,"y":1.58},{"x":2.646,"y":1.54},{"x":2.67,"y":1.49},
{"x":2.49,"y":2.07},{"x":2.514,"y":2.03},{"x":2.55,"y":1.96},{"x":2.574,"y":1.92},{"x":2.61,"y":1.85},{"x":2.634,"y":1.81},
{"x":2.314,"y":2.48},{"x":2.338,"y":2.45},{"x":2.346,"y":2.45},{"x":2.37,"y":2.42},{"x":2.46,"y":2.87},{"x":2.536,"y":2.95},{"x":2.536,"y":2.8},{"x":2.595,"y":2.41},{"x":2.621,"y":2.18},{"x":2.637,"y":2.12},{"x":2.662,"y":2.09},{"x":2.675,"y":1.89},{"x":2.72,"y":1.78},{"x":2.7,"y":1.58},{"x":2.71,"y":1.6},{"x":2.71,"y":1.02},{"x":2.7,"y":0.17},{"x":2.72,"y":-0.47},{"x":2.73,"y":-0.47},{"x":2.71,"y":-1.29},{"x":2.72,"y":-1.77},{"x":2.72,"y":-2.32},{"x":2.287,"y":1.77},{"x":2.275,"y":1.54},{"x":2.262,"y":1.23},{"x":2.4,"y":2.15},{"x":2.43,"y":2.1},{"x":2.44,"y":2.3},{"x":2.45,"y":2.28},{"x":2.455,"y":2.25},{"x":2.5,"y":1.95},{"x":2.51,"y":1.93},{"x":2.56,"y":2.55},{"x":2.57,"y":2.35},{"x":2.58,"y":2.1},{"x":2.6,"y":2.05},{"x":2.62,"y":1.55},{"x":2.64,"y":1.5},{"x":2.66,"y":1.45},{"x":2.68,"y":1.42},{"x":2.33,"y":1.78},{"x":2.35,"y":1.8},{"x":2.36,"y":1.72},{"x":2.38,"y":1.9},{"x":2.39,"y":1.95},{"x":2.42,"y":1.95},{"x":2.7,"y":-1.69},{"x":2.7,"y":-1.74},{"x":2.65,"y":-2.16},{"x":2.66,"y":-2.22},
{"x":2.268,"y":-1.6},{"x":2.28,"y":-1.62},{"x":2.292,"y":-1.65},{"x":2.304,"y":-1.67},{"x":2.316,"y":-1.69},{"x":2.328,"y":-1.71},{"x":2.34,"y":-1.73},{"x":2.352,"y":-1.75},{"x":2.364,"y":-1.77},{"x":2.376,"y":-1.8},{"x":2.388,"y":-1.82},{"x":2.4,"y":-1.84},{"x":2.412,"y":-1.86},{"x":2.424,"y":-1.88},{"x":2.436,"y":-1.9},{"x":2.448,"y":-1.93},{"x":2.46,"y":-1.95},{"x":2.472,"y":-1.97},
{"x":2.256,"y":-0.98},{"x":2.268,"y":-1.0},{"x":2.28,"y":-1.02},{"x":2.292,"y":-1.05},{"x":2.304,"y":-1.07},{"x":2.316,"y":-1.09},{"x":2.328,"y":-1.11},{"x":2.34,"y":-1.13},{"x":2.352,"y":-1.15},{"x":2.364,"y":-1.17},{"x":2.376,"y":-1.2},{"x":2.388,"y":-1.22},{"x":2.4,"y":-1.24},{"x":2.412,"y":-1.26},{"x":2.424,"y":-1.28},{"x":2.436,"y":-1.3},{"x":2.448,"y":-1.33},{"x":2.46,"y":-1.35},{"x":2.472,"y":-1.37},{"x":2.484,"y":-1.39},{"x":2.496,"y":-1.41},{"x":2.508,"y":-1.43},{"x":2.52,"y":-1.46},{"x":2.532,"y":-1.48},{"x":2.544,"y":-1.5},{"x":2.556,"y":-1.52},{"x":2.568,"y":-1.54},{"x":2.58,"y":-1.56},{"x":2.592,"y":-1.59},{"x":2.604,"y":-1.61},{"x":2.616,"y":-1.63},{"x":2.628,"y":-1.65},
{"x":2.262,"y":-0.55},{"x":2.274,"y":-0.57},{"x":2.286,"y":-0.59},{"x":2.298,"y":-0.62},{"x":2.31,"y":-0.64},{"x":2.322,"y":-0.66},{"x":2.334,"y":-0.68},{"x":2.346,"y":-0.7},{"x":2.358,"y":-0.72},{"x":2.37,"y":-0.74},{"x":2.382,"y":-0.77},{"x":2.394,"y":-0.79},{"x":2.406,"y":-0.81},{"x":2.418,"y":-0.83},{"x":2.43,"y":-0.85},{"x":2.442,"y":-0.87},{"x":2.454,"y":-0.9},{"x":2.466,"y":-0.92},{"x":2.478,"y":-0.94},{"x":2.49,"y":-0.96},{"x":2.502,"y":-0.98},{"x":2.514,"y":-1.0},{"x":2.526,"y":-1.03},{"x":2.538,"y":-1.05},{"x":2.55,"y":-1.07},{"x":2.562,"y":-1.09},{"x":2.574,"y":-1.11},{"x":2.586,"y":-1.13},{"x":2.598,"y":-1.16},{"x":2.61,"y":-1.18},{"x":2.622,"y":-1.2},{"x":2.634,"y":-1.22},{"x":2.646,"y":-1.24},{"x":2.658,"y":-1.26},{"x":2.67,"y":-1.28},{"x":2.682,"y":-1.31},{"x":2.694,"y":-1.33},{"x":2.706,"y":-1.35},
{"x":2.256,"y":-0.14},{"x":2.268,"y":-0.16},{"x":2.28,"y":-0.18},{"x":2.292,"y":-0.21},{"x":2.304,"y":-0.23},{"x":2.316,"y":-0.25},{"x":2.328,"y":-0.27},{"x":2.34,"y":-0.29},{"x":2.352,"y":-0.31},{"x":2.364,"y":-0.33},{"x":2.376,"y":-0.36},{"x":2.388,"y":-0.38},{"x":2.4,"y":-0.4},{"x":2.412,"y":-0.42},{"x":2.424,"y":-0.44},{"x":2.436,"y":-0.46},{"x":2.448,"y":-0.49},{"x":2.46,"y":-0.51},{"x":2.472,"y":-0.53},{"x":2.484,"y":-0.55},{"x":2.496,"y":-0.57},{"x":2.508,"y":-0.59},{"x":2.52,"y":-0.62},{"x":2.532,"y":-0.64},{"x":2.544,"y":-0.66},{"x":2.556,"y":-0.68},{"x":2.568,"y":-0.7},{"x":2.58,"y":-0.72},{"x":2.592,"y":-0.75},{"x":2.604,"y":-0.77},{"x":2.616,"y":-0.79},{"x":2.628,"y":-0.81},{"x":2.64,"y":-0.83},{"x":2.652,"y":-0.85},{"x":2.664,"y":-0.87},{"x":2.676,"y":-0.9},{"x":2.688,"y":-0.92},{"x":2.7,"y":-0.94},{"x":2.712,"y":-0.96},{"x":2.724,"y":-0.98},
{"x":2.262,"y":0.23},{"x":2.274,"y":0.21},{"x":2.286,"y":0.19},{"x":2.298,"y":0.17},{"x":2.31,"y":0.14},{"x":2.322,"y":0.12},{"x":2.334,"y":0.1},{"x":2.346,"y":0.08},{"x":2.358,"y":0.06},{"x":2.37,"y":0.04},{"x":2.382,"y":0.01},{"x":2.394,"y":-0.01},{"x":2.406,"y":-0.03},{"x":2.418,"y":-0.05},{"x":2.43,"y":-0.07},{"x":2.442,"y":-0.09},{"x":2.454,"y":-0.12},{"x":2.466,"y":-0.14},{"x":2.478,"y":-0.16},{"x":2.49,"y":-0.18},{"x":2.502,"y":-0.2},{"x":2.514,"y":-0.22},{"x":2.526,"y":-0.25},{"x":2.538,"y":-0.27},{"x":2.55,"y":-0.29},{"x":2.562,"y":-0.31},{"x":2.574,"y":-0.33},{"x":2.586,"y":-0.35},{"x":2.598,"y":-0.38},{"x":2.61,"y":-0.4},{"x":2.622,"y":-0.42},{"x":2.634,"y":-0.44},{"x":2.646,"y":-0.46},{"x":2.658,"y":-0.48},{"x":2.67,"y":-0.5},{"x":2.682,"y":-0.53},{"x":2.694,"y":-0.55},{"x":2.706,"y":-0.57},{"x":2.718,"y":-0.59},
{"x":2.256,"y":0.64},{"x":2.268,"y":0.62},{"x":2.28,"y":0.6},{"x":2.292,"y":0.58},{"x":2.304,"y":0.55},{"x":2.316,"y":0.53},{"x":2.328,"y":0.51},{"x":2.34,"y":0.49},{"x":2.352,"y":0.47},{"x":2.364,"y":0.45},{"x":2.376,"y":0.42},{"x":2.388,"y":0.4},{"x":2.4,"y":0.38},{"x":2.412,"y":0.36},{"x":2.424,"y":0.34},{"x":2.436,"y":0.32},{"x":2.448,"y":0.29},{"x":2.46,"y":0.27},{"x":2.472,"y":0.25},{"x":2.484,"y":0.23},{"x":2.496,"y":0.21},{"x":2.508,"y":0.19},{"x":2.52,"y":0.16},{"x":2.532,"y":0.14},{"x":2.544,"y":0.12},{"x":2.556,"y":0.1},{"x":2.568,"y":0.08},{"x":2.58,"y":0.06},{"x":2.592,"y":0.03},{"x":2.604,"y":0.01},{"x":2.616,"y":-0.01},{"x":2.628,"y":-0.03},{"x":2.64,"y":-0.05},{"x":2.652,"y":-0.07},{"x":2.664,"y":-0.09},{"x":2.676,"y":-0.12},{"x":2.688,"y":-0.14},{"x":2.7,"y":-0.16},
{"x":2.274,"y":0.9},{"x":2.286,"y":0.88},{"x":2.298,"y":0.86},{"x":2.31,"y":0.83},{"x":2.322,"y":0.81},{"x":2.334,"y":0.79},{"x":2.346,"y":0.77},{"x":2.358,"y":0.75},{"x":2.37,"y":0.73},{"x":2.382,"y":0.7},{"x":2.394,"y":0.68},{"x":2.406,"y":0.66},{"x":2.418,"y":0.64},{"x":2.43,"y":0.62},{"x":2.442,"y":0.6},{"x":2.454,"y":0.57},{"x":2.466,"y":0.55},{"x":2.478,"y":0.53},{"x":2.49,"y":0.51},{"x":2.502,"y":0.49},{"x":2.514,"y":0.47},{"x":2.526,"y":0.44},{"x":2.538,"y":0.42},{"x":2.55,"y":0.4},{"x":2.562,"y":0.38},{"x":2.574,"y":0.36},{"x":2.586,"y":0.34},{"x":2.598,"y":0.31},{"x":2.61,"y":0.29},{"x":2.622,"y":0.27},{"x":2.634,"y":0.25},{"x":2.646,"y":0.23},{"x":2.658,"y":0.21},{"x":2.67,"y":0.19},{"x":2.682,"y":0.16},{"x":2.694,"y":0.14},{"x":2.706,"y":0.12},
{"x":2.28,"y":1.14},{"x":2.292,"y":1.12},{"x":2.304,"y":1.09},{"x":2.316,"y":1.07},{"x":2.328,"y":1.05},{"x":2.34,"y":1.03},{"x":2.352,"y":1.01},{"x":2.364,"y":0.99},{"x":2.376,"y":0.96},{"x":2.388,"y":0.94},{"x":2.4,"y":0.92},{"x":2.412,"y":0.9},{"x":2.424,"y":0.88},{"x":2.436,"y":0.86},{"x":2.448,"y":0.83},{"x":2.46,"y":0.81},{"x":2.472,"y":0.79},{"x":2.484,"y":0.77},{"x":2.496,"y":0.75},{"x":2.508,"y":0.73},{"x":2.52,"y":0.71},{"x":2.532,"y":0.68},{"x":2.544,"y":0.66},{"x":2.556,"y":0.64},{"x":2.568,"y":0.62},{"x":2.58,"y":0.6},{"x":2.592,"y":0.58},{"x":2.604,"y":0.55},{"x":2.616,"y":0.53},{"x":2.628,"y":0.51},{"x":2.64,"y":0.49},{"x":2.652,"y":0.47},{"x":2.664,"y":0.45},{"x":2.676,"y":0.42},{"x":2.688,"y":0.4},{"x":2.7,"y":0.38}
],
"p5":[
{"x":2.39,"y":-1.22},{"x":2.42,"y":-1.26},{"x":2.45,"y":-1.3},{"x":2.48,"y":-1.33},{"x":2.51,"y":-1.37},{"x":2.54,"y":-1.41},{"x":2.57,"y":-1.45},{"x":2.6,"y":-1.49},{"x":2.63,"y":-1.53},{"x":2.61,"y":-1.63},{"x":2.74,"y":-1.8},{"x":2.76,"y":-1.82},{"x":2.4,"y":-2.2},{"x":2.42,"y":-2.22},
{"x":2.38,"y":-0.57},{"x":2.4,"y":-0.6},{"x":2.44,"y":-0.65},{"x":2.48,"y":-0.7},{"x":2.52,"y":-0.76},{"x":2.56,"y":-0.81},{"x":2.6,"y":-0.86},{"x":2.64,"y":-0.91},{"x":2.68,"y":-0.96},{"x":2.72,"y":-1.02},{"x":2.76,"y":-1.07},{"x":2.8,"y":-1.12},{"x":2.84,"y":-1.17},{"x":2.88,"y":-1.22},{"x":2.92,"y":-1.28},{"x":2.96,"y":-1.33},{"x":3.0,"y":-1.38},{"x":3.04,"y":-1.43},{"x":3.08,"y":-1.48},{"x":3.12,"y":-1.54},{"x":3.16,"y":-1.59},{"x":3.2,"y":-1.64},{"x":3.24,"y":-1.69},{"x":3.28,"y":-1.74},{"x":3.36,"y":-1.85},{"x":3.44,"y":-1.95},{"x":3.52,"y":-2.06},{"x":3.6,"y":-2.16},
{"x":2.42,"y":0.02},{"x":2.46,"y":-0.03},{"x":2.5,"y":-0.08},{"x":2.54,"y":-0.13},{"x":2.58,"y":-0.18},{"x":2.62,"y":-0.24},{"x":2.66,"y":-0.29},{"x":2.7,"y":-0.34},{"x":2.74,"y":-0.39},{"x":2.78,"y":-0.44},{"x":2.82,"y":-0.5},{"x":2.86,"y":-0.55},{"x":2.9,"y":-0.6},{"x":2.94,"y":-0.65},{"x":2.98,"y":-0.7},{"x":3.02,"y":-0.76},{"x":3.06,"y":-0.81},{"x":3.1,"y":-0.86},{"x":3.14,"y":-0.91},{"x":3.18,"y":-0.96},{"x":3.22,"y":-1.02},{"x":3.26,"y":-1.07},{"x":3.3,"y":-1.12},{"x":3.34,"y":-1.17},{"x":3.38,"y":-1.22},{"x":3.42,"y":-1.28},{"x":3.46,"y":-1.33},{"x":3.5,"y":-1.38},{"x":3.54,"y":-1.43},{"x":3.58,"y":-1.48},{"x":3.62,"y":-1.54},{"x":3.66,"y":-1.59},{"x":3.7,"y":-1.64},{"x":3.78,"y":-1.74},{"x":3.86,"y":-1.85},{"x":3.94,"y":-1.95},
{"x":2.48,"y":0.52},{"x":2.52,"y":0.46},{"x":2.56,"y":0.41},{"x":2.6,"y":0.36},{"x":2.64,"y":0.31},{"x":2.68,"y":0.26},{"x":2.72,"y":0.2},{"x":2.76,"y":0.15},{"x":2.8,"y":0.1},{"x":2.84,"y":0.05},{"x":2.88,"y":0},{"x":2.92,"y":-0.06},{"x":2.96,"y":-0.11},{"x":3.0,"y":-0.16},{"x":3.04,"y":-0.21},{"x":3.08,"y":-0.26},{"x":3.12,"y":-0.32},{"x":3.16,"y":-0.37},{"x":3.2,"y":-0.42},{"x":3.24,"y":-0.47},{"x":3.28,"y":-0.52},{"x":3.32,"y":-0.58},{"x":3.36,"y":-0.63},{"x":3.4,"y":-0.68},{"x":3.44,"y":-0.73},{"x":3.48,"y":-0.78},{"x":3.52,"y":-0.84},{"x":3.56,"y":-0.89},{"x":3.6,"y":-0.94},{"x":3.64,"y":-0.99},{"x":3.68,"y":-1.04},{"x":3.72,"y":-1.1},{"x":3.76,"y":-1.15},{"x":3.8,"y":-1.2},{"x":3.84,"y":-1.25},{"x":3.88,"y":-1.3},{"x":3.92,"y":-1.36},{"x":3.96,"y":-1.41},{"x":4.0,"y":-1.46},{"x":4.04,"y":-1.51},{"x":4.08,"y":-1.56},
{"x":2.5,"y":1.07},{"x":2.54,"y":1.02},{"x":2.58,"y":0.97},{"x":2.62,"y":0.91},{"x":2.66,"y":0.86},{"x":2.7,"y":0.81},{"x":2.74,"y":0.76},{"x":2.78,"y":0.71},{"x":2.82,"y":0.65},{"x":2.86,"y":0.6},{"x":2.9,"y":0.55},{"x":2.94,"y":0.5},{"x":2.98,"y":0.45},{"x":3.02,"y":0.39},{"x":3.06,"y":0.34},{"x":3.1,"y":0.29},{"x":3.14,"y":0.24},{"x":3.18,"y":0.19},{"x":3.22,"y":0.13},{"x":3.26,"y":0.08},{"x":3.3,"y":0.03},{"x":3.34,"y":-0.02},{"x":3.38,"y":-0.07},{"x":3.42,"y":-0.13},{"x":3.46,"y":-0.18},{"x":3.5,"y":-0.23},{"x":3.54,"y":-0.28},{"x":3.58,"y":-0.33},{"x":3.62,"y":-0.39},{"x":3.66,"y":-0.44},{"x":3.7,"y":-0.49},{"x":3.74,"y":-0.54},{"x":3.78,"y":-0.59},{"x":3.82,"y":-0.65},{"x":3.86,"y":-0.7},{"x":3.9,"y":-0.75},{"x":3.94,"y":-0.8},{"x":3.98,"y":-0.85},{"x":4.02,"y":-0.91},{"x":4.06,"y":-0.96},{"x":4.1,"y":-1.01},
{"x":2.56,"y":1.54},{"x":2.6,"y":1.49},{"x":2.64,"y":1.44},{"x":2.68,"y":1.39},{"x":2.72,"y":1.33},{"x":2.76,"y":1.28},{"x":2.8,"y":1.23},{"x":2.84,"y":1.18},{"x":2.88,"y":1.13},{"x":2.92,"y":1.07},{"x":2.96,"y":1.02},{"x":3.0,"y":0.97},{"x":3.04,"y":0.92},{"x":3.08,"y":0.87},{"x":3.12,"y":0.81},{"x":3.16,"y":0.76},{"x":3.2,"y":0.71},{"x":3.24,"y":0.66},{"x":3.28,"y":0.61},{"x":3.32,"y":0.55},{"x":3.36,"y":0.5},{"x":3.4,"y":0.45},{"x":3.44,"y":0.4},{"x":3.48,"y":0.35},{"x":3.52,"y":0.29},{"x":3.56,"y":0.24},{"x":3.6,"y":0.19},{"x":3.64,"y":0.14},{"x":3.68,"y":0.09},{"x":3.72,"y":0.03},{"x":3.76,"y":-0.02},{"x":3.8,"y":-0.07},{"x":3.84,"y":-0.12},{"x":3.88,"y":-0.17},{"x":3.92,"y":-0.23},{"x":3.96,"y":-0.28},{"x":4.0,"y":-0.33},{"x":4.04,"y":-0.38},{"x":4.08,"y":-0.43},{"x":4.12,"y":-0.49},
{"x":2.7,"y":1.86},{"x":2.74,"y":1.81},{"x":2.78,"y":1.76},{"x":2.82,"y":1.7},{"x":2.86,"y":1.65},{"x":2.9,"y":1.6},{"x":2.94,"y":1.55},{"x":2.98,"y":1.5},{"x":3.02,"y":1.44},{"x":3.06,"y":1.39},{"x":3.1,"y":1.34},{"x":3.14,"y":1.29},{"x":3.18,"y":1.24},{"x":3.22,"y":1.18},{"x":3.26,"y":1.13},{"x":3.3,"y":1.08},{"x":3.34,"y":1.03},{"x":3.38,"y":0.98},{"x":3.42,"y":0.92},{"x":3.46,"y":0.87},{"x":3.5,"y":0.82},{"x":3.54,"y":0.77},{"x":3.58,"y":0.72},{"x":3.62,"y":0.66},{"x":3.66,"y":0.61},{"x":3.7,"y":0.56},{"x":3.74,"y":0.51},{"x":3.78,"y":0.46},{"x":3.82,"y":0.4},{"x":3.86,"y":0.35},{"x":3.9,"y":0.3},{"x":3.94,"y":0.25},{"x":3.98,"y":0.2},{"x":4.02,"y":0.14},{"x":4.06,"y":0.09},{"x":4.1,"y":0.04},
{"x":2.72,"y":2.28},{"x":2.8,"y":2.18},{"x":2.88,"y":2.08},{"x":2.92,"y":2.02},{"x":2.96,"y":1.97},{"x":3.0,"y":1.92},{"x":3.04,"y":1.87},{"x":3.08,"y":1.82},{"x":3.12,"y":1.76},{"x":3.16,"y":1.71},{"x":3.2,"y":1.66},{"x":3.24,"y":1.61},{"x":3.28,"y":1.56},{"x":3.32,"y":1.5},{"x":3.36,"y":1.45},{"x":3.4,"y":1.4},{"x":3.44,"y":1.35},{"x":3.48,"y":1.3},{"x":3.52,"y":1.24},{"x":3.56,"y":1.19},{"x":3.6,"y":1.14},{"x":3.64,"y":1.09},{"x":3.68,"y":1.04},{"x":3.72,"y":0.98},{"x":3.76,"y":0.93},{"x":3.8,"y":0.88},{"x":3.84,"y":0.83},{"x":3.88,"y":0.78},{"x":3.92,"y":0.72},{"x":3.96,"y":0.67},{"x":4.0,"y":0.62},{"x":4.04,"y":0.57},{"x":4.08,"y":0.52},{"x":4.12,"y":0.46},{"x":2.71,"y":2.41},{"x":2.77,"y":2.33},
{"x":3.02,"y":2.29},{"x":3.06,"y":2.24},{"x":3.1,"y":2.19},{"x":3.14,"y":2.14},{"x":3.18,"y":2.09},{"x":3.22,"y":2.03},{"x":3.26,"y":1.98},{"x":3.3,"y":1.93},{"x":3.34,"y":1.88},{"x":3.38,"y":1.83},{"x":3.42,"y":1.77},{"x":3.46,"y":1.72},{"x":3.5,"y":1.67},{"x":3.54,"y":1.62},{"x":3.58,"y":1.57},{"x":3.62,"y":1.51},{"x":3.66,"y":1.46},{"x":3.7,"y":1.41},{"x":3.74,"y":1.36},{"x":3.78,"y":1.31},{"x":3.82,"y":1.25},{"x":3.86,"y":1.2},{"x":3.9,"y":1.15},{"x":3.94,"y":1.1},{"x":3.98,"y":1.05},{"x":4.02,"y":0.99},{"x":4.06,"y":0.94},{"x":2.82,"y":2.7},{"x":2.93,"y":2.56},{"x":2.97,"y":2.45},
{"x":3.12,"y":2.51},{"x":3.16,"y":2.46},{"x":3.2,"y":2.41},{"x":3.24,"y":2.36},{"x":3.28,"y":2.31},{"x":3.32,"y":2.25},{"x":3.36,"y":2.2},{"x":3.4,"y":2.15},{"x":3.44,"y":2.1},{"x":3.48,"y":2.05},{"x":3.52,"y":1.99},{"x":3.56,"y":1.94},{"x":3.6,"y":1.89},{"x":3.64,"y":1.84},{"x":3.68,"y":1.79},{"x":3.72,"y":1.73},{"x":3.76,"y":1.68},{"x":3.8,"y":1.63},{"x":3.84,"y":1.58},{"x":3.88,"y":1.53},{"x":3.92,"y":1.47},{"x":3.96,"y":1.42},{"x":4.0,"y":1.37},{"x":4.04,"y":1.32},
{"x":3.22,"y":2.73},{"x":3.3,"y":2.63},{"x":3.38,"y":2.53},{"x":3.46,"y":2.42},{"x":3.5,"y":2.37},{"x":3.58,"y":2.27},{"x":3.62,"y":2.21},{"x":3.7,"y":2.11},{"x":3.74,"y":2.06},{"x":3.82,"y":1.95},{"x":3.86,"y":1.9},{"x":3.94,"y":1.8},{"x":4.02,"y":1.69},
{"x":3.12,"y":3.19},{"x":4.01,"y":2.81},{"x":3.88,"y":2.62},{"x":3.92,"y":2.42},{"x":4.02,"y":2.28},{"x":3.77,"y":2.16},{"x":3.78,"y":2.2},{"x":4.08,"y":1.77},{"x":4.09,"y":1.8},{"x":4.17,"y":0.68},{"x":4.11,"y":0.22},{"x":2.94,"y":-2.16},{"x":3.06,"y":-2.31},{"x":3.21,"y":-2.51},{"x":3.48,"y":-2.9},{"x":3.58,"y":-3.13},{"x":3.48,"y":-2.22},{"x":3.58,"y":-2.43},{"x":3.63,"y":-2.5},{"x":3.65,"y":-2.52},{"x":3.77,"y":-2.62},{"x":4.17,"y":-2.56},{"x":4.05,"y":-2.4},{"x":4.1,"y":-1.83},{"x":3.9,"y":-2.05},{"x":3.95,"y":-2.1},{"x":3.8,"y":-2.0},{"x":3.85,"y":-2.05},{"x":4.0,"y":-2.28},{"x":3.7,"y":-2.08},
{"x":2.42,"y":-0.7},{"x":2.46,"y":-0.75},{"x":2.5,"y":-0.8},{"x":2.54,"y":-0.86},{"x":2.58,"y":-0.91},{"x":2.62,"y":-0.96},{"x":2.66,"y":-1.01},{"x":2.7,"y":-1.06},{"x":2.74,"y":-1.12},{"x":2.78,"y":-1.17},{"x":2.82,"y":-1.22},{"x":2.86,"y":-1.27},{"x":2.9,"y":-1.32},{"x":2.94,"y":-1.38},{"x":2.98,"y":-1.43},{"x":3.02,"y":-1.48},{"x":3.06,"y":-1.53},{"x":3.1,"y":-1.58},{"x":3.14,"y":-1.64},{"x":3.18,"y":-1.69},{"x":3.22,"y":-1.74},{"x":3.26,"y":-1.79},
{"x":2.44,"y":-0.08},{"x":2.48,"y":-0.13},{"x":2.52,"y":-0.18},{"x":2.56,"y":-0.23},{"x":2.6,"y":-0.28},{"x":2.64,"y":-0.34},{"x":2.68,"y":-0.39},{"x":2.72,"y":-0.44},{"x":2.76,"y":-0.49},{"x":2.8,"y":-0.54},{"x":2.84,"y":-0.6},{"x":2.88,"y":-0.65},{"x":2.92,"y":-0.7},{"x":2.96,"y":-0.75},{"x":3.0,"y":-0.8},{"x":3.04,"y":-0.86},{"x":3.08,"y":-0.91},{"x":3.12,"y":-0.96},{"x":3.16,"y":-1.01},{"x":3.2,"y":-1.06},{"x":3.24,"y":-1.12},{"x":3.28,"y":-1.17},{"x":3.32,"y":-1.22},{"x":3.36,"y":-1.27},{"x":3.4,"y":-1.32},{"x":3.44,"y":-1.38},{"x":3.48,"y":-1.43},{"x":3.52,"y":-1.48},{"x":3.56,"y":-1.53},{"x":3.6,"y":-1.58},{"x":3.64,"y":-1.64},{"x":3.68,"y":-1.69},{"x":3.72,"y":-1.74},
{"x":2.5,"y":0.42},{"x":2.54,"y":0.36},{"x":2.58,"y":0.31},{"x":2.62,"y":0.26},{"x":2.66,"y":0.21},{"x":2.7,"y":0.16},{"x":2.74,"y":0.1},{"x":2.78,"y":0.05},{"x":2.82,"y":0},{"x":2.86,"y":-0.05},{"x":2.9,"y":-0.1},{"x":2.94,"y":-0.16},{"x":2.98,"y":-0.21},{"x":3.02,"y":-0.26},{"x":3.06,"y":-0.31},{"x":3.1,"y":-0.36},{"x":3.14,"y":-0.42},{"x":3.18,"y":-0.47},{"x":3.22,"y":-0.52},{"x":3.26,"y":-0.57},{"x":3.3,"y":-0.62},{"x":3.34,"y":-0.68},{"x":3.38,"y":-0.73},{"x":3.42,"y":-0.78},{"x":3.46,"y":-0.83},{"x":3.5,"y":-0.88},{"x":3.54,"y":-0.94},{"x":3.58,"y":-0.99},{"x":3.62,"y":-1.04},{"x":3.66,"y":-1.09},{"x":3.7,"y":-1.14},{"x":3.74,"y":-1.2},{"x":3.78,"y":-1.25},{"x":3.82,"y":-1.3},{"x":3.86,"y":-1.35},{"x":3.9,"y":-1.4},{"x":3.94,"y":-1.46},{"x":3.98,"y":-1.51},{"x":4.02,"y":-1.56},{"x":4.06,"y":-1.61},{"x":4.1,"y":-1.66},
{"x":2.52,"y":0.97},{"x":2.56,"y":0.92},{"x":2.6,"y":0.87},{"x":2.64,"y":0.81},{"x":2.68,"y":0.76},{"x":2.72,"y":0.71},{"x":2.76,"y":0.66},{"x":2.8,"y":0.61},{"x":2.84,"y":0.55},{"x":2.88,"y":0.5},{"x":2.92,"y":0.45},{"x":2.96,"y":0.4},{"x":3.0,"y":0.35},{"x":3.04,"y":0.29},{"x":3.08,"y":0.24},{"x":3.12,"y":0.19},{"x":3.16,"y":0.14},{"x":3.2,"y":0.09},{"x":3.24,"y":0.03},{"x":3.28,"y":-0.02},{"x":3.32,"y":-0.07},{"x":3.36,"y":-0.12},{"x":3.4,"y":-0.17},{"x":3.44,"y":-0.23},{"x":3.48,"y":-0.28},{"x":3.52,"y":-0.33},{"x":3.56,"y":-0.38},{"x":3.6,"y":-0.43},{"x":3.64,"y":-0.49},{"x":3.68,"y":-0.54},{"x":3.72,"y":-0.59},{"x":3.76,"y":-0.64},{"x":3.8,"y":-0.69},{"x":3.84,"y":-0.75},{"x":3.88,"y":-0.8},{"x":3.92,"y":-0.85},{"x":3.96,"y":-0.9},{"x":4.0,"y":-0.95},{"x":4.04,"y":-1.01},{"x":4.08,"y":-1.06},{"x":4.12,"y":-1.11},
{"x":2.58,"y":1.44},{"x":2.62,"y":1.39},{"x":2.66,"y":1.34},{"x":2.7,"y":1.29},{"x":2.74,"y":1.23},{"x":2.78,"y":1.18},{"x":2.82,"y":1.13},{"x":2.86,"y":1.08},{"x":2.9,"y":1.03},{"x":2.94,"y":0.97},{"x":2.98,"y":0.92},{"x":3.02,"y":0.87},{"x":3.06,"y":0.82},{"x":3.1,"y":0.77},{"x":3.14,"y":0.71},{"x":3.18,"y":0.66},{"x":3.22,"y":0.61},{"x":3.26,"y":0.56},{"x":3.3,"y":0.51},{"x":3.34,"y":0.45},{"x":3.38,"y":0.4},{"x":3.42,"y":0.35},{"x":3.46,"y":0.3},{"x":3.5,"y":0.25},{"x":3.54,"y":0.19},{"x":3.58,"y":0.14},{"x":3.62,"y":0.09},{"x":3.66,"y":0.04},{"x":3.7,"y":-0.01},{"x":3.74,"y":-0.07},{"x":3.78,"y":-0.12},{"x":3.82,"y":-0.17},{"x":3.86,"y":-0.22},{"x":3.9,"y":-0.27},{"x":3.94,"y":-0.33},{"x":3.98,"y":-0.38},{"x":4.02,"y":-0.43},{"x":4.06,"y":-0.48},{"x":4.1,"y":-0.53},
{"x":2.72,"y":1.76},{"x":2.76,"y":1.71},{"x":2.8,"y":1.66},{"x":2.84,"y":1.6},{"x":2.88,"y":1.55},{"x":2.92,"y":1.5},{"x":2.96,"y":1.45},{"x":3.0,"y":1.4},{"x":3.04,"y":1.34},{"x":3.08,"y":1.29},{"x":3.12,"y":1.24},{"x":3.16,"y":1.19},{"x":3.2,"y":1.14},{"x":3.24,"y":1.08},{"x":3.28,"y":1.03},{"x":3.32,"y":0.98},{"x":3.36,"y":0.93},{"x":3.4,"y":0.88},{"x":3.44,"y":0.82},{"x":3.48,"y":0.77},{"x":3.52,"y":0.72},{"x":3.56,"y":0.67},{"x":3.6,"y":0.62},{"x":3.64,"y":0.56},{"x":3.68,"y":0.51},{"x":3.72,"y":0.46},{"x":3.76,"y":0.41},{"x":3.8,"y":0.36},{"x":3.84,"y":0.3},{"x":3.88,"y":0.25},{"x":3.92,"y":0.2},{"x":3.96,"y":0.15},{"x":4.0,"y":0.1},{"x":4.04,"y":0.04},{"x":4.08,"y":-0.01},
{"x":2.9,"y":1.98},{"x":2.94,"y":1.92},{"x":2.98,"y":1.87},{"x":3.02,"y":1.82},{"x":3.06,"y":1.77},{"x":3.1,"y":1.72},{"x":3.14,"y":1.66},{"x":3.18,"y":1.61},{"x":3.22,"y":1.56},{"x":3.26,"y":1.51},{"x":3.3,"y":1.46},{"x":3.34,"y":1.4},{"x":3.38,"y":1.35},{"x":3.42,"y":1.3},{"x":3.46,"y":1.25},{"x":3.5,"y":1.2},{"x":3.54,"y":1.14},{"x":3.58,"y":1.09},{"x":3.62,"y":1.04},{"x":3.66,"y":0.99},{"x":3.7,"y":0.94},{"x":3.74,"y":0.88},{"x":3.78,"y":0.83},{"x":3.82,"y":0.78},{"x":3.86,"y":0.73},{"x":3.9,"y":0.68},{"x":3.94,"y":0.62},{"x":3.98,"y":0.57},{"x":4.02,"y":0.52},{"x":4.06,"y":0.47},{"x":4.1,"y":0.42},
{"x":3.04,"y":2.19},{"x":3.08,"y":2.14},{"x":3.12,"y":2.09},{"x":3.16,"y":2.04},{"x":3.2,"y":1.99},{"x":3.24,"y":1.93},{"x":3.28,"y":1.88},{"x":3.32,"y":1.83},{"x":3.36,"y":1.78},{"x":3.4,"y":1.73},{"x":3.44,"y":1.67},{"x":3.48,"y":1.62},{"x":3.52,"y":1.57},{"x":3.56,"y":1.52},{"x":3.6,"y":1.47},{"x":3.64,"y":1.41},{"x":3.68,"y":1.36},{"x":3.72,"y":1.31},{"x":3.76,"y":1.26},{"x":3.8,"y":1.21},{"x":3.84,"y":1.15},{"x":3.88,"y":1.1},{"x":3.92,"y":1.05},{"x":3.96,"y":1.0},{"x":4.0,"y":0.95},{"x":4.04,"y":0.89}
],
"p6":[
{"x":2.16,"y":-1.52},{"x":2.175,"y":-1.55},{"x":2.19,"y":-1.58},{"x":2.205,"y":-1.62},{"x":2.22,"y":-1.65},{"x":2.235,"y":-1.68},{"x":2.25,"y":-1.71},{"x":2.265,"y":-1.74},{"x":2.28,"y":-1.77},{"x":2.295,"y":-1.8},{"x":2.31,"y":-1.84},{"x":2.325,"y":-1.87},{"x":2.34,"y":-1.9},{"x":2.355,"y":-1.93},{"x":2.37,"y":-1.96},{"x":2.385,"y":-1.99},{"x":2.4,"y":-2.02},{"x":2.415,"y":-2.06},{"x":2.43,"y":-2.09},{"x":2.445,"y":-2.12},{"x":2.46,"y":-2.15},{"x":2.475,"y":-2.18},{"x":2.49,"y":-2.21},{"x":2.505,"y":-2.25},{"x":2.52,"y":-2.28},{"x":2.55,"y":-2.34},{"x":2.58,"y":-2.4},{"x":2.595,"y":-2.43},{"x":2.61,"y":-2.47},
{"x":2.16,"y":-0.88},{"x":2.175,"y":-0.91},{"x":2.19,"y":-0.94},{"x":2.205,"y":-0.98},{"x":2.22,"y":-1.01},{"x":2.235,"y":-1.04},{"x":2.25,"y":-1.07},{"x":2.265,"y":-1.1},{"x":2.28,"y":-1.13},{"x":2.295,"y":-1.16},{"x":2.31,"y":-1.2},{"x":2.325,"y":-1.23},{"x":2.34,"y":-1.26},{"x":2.355,"y":-1.29},{"x":2.37,"y":-1.32},{"x":2.385,"y":-1.35},{"x":2.4,"y":-1.38},{"x":2.415,"y":-1.42},{"x":2.43,"y":-1.45},{"x":2.445,"y":-1.48},{"x":2.46,"y":-1.51},{"x":2.475,"y":-1.54},{"x":2.49,"y":-1.57},{"x":2.505,"y":-1.61},{"x":2.52,"y":-1.64},{"x":2.535,"y":-1.67},{"x":2.55,"y":-1.7},{"x":2.565,"y":-1.73},{"x":2.595,"y":-1.79},{"x":2.625,"y":-1.86},{"x":2.655,"y":-1.92},{"x":2.685,"y":-1.98},{"x":2.7,"y":-2.01},
{"x":2.16,"y":-0.34},{"x":2.175,"y":-0.37},{"x":2.19,"y":-0.4},{"x":2.205,"y":-0.44},{"x":2.22,"y":-0.47},{"x":2.235,"y":-0.5},{"x":2.25,"y":-0.53},{"x":2.265,"y":-0.56},{"x":2.28,"y":-0.59},{"x":2.295,"y":-0.62},{"x":2.31,"y":-0.66},{"x":2.325,"y":-0.69},{"x":2.34,"y":-0.72},{"x":2.355,"y":-0.75},{"x":2.37,"y":-0.78},{"x":2.385,"y":-0.81},{"x":2.4,"y":-0.84},{"x":2.415,"y":-0.88},{"x":2.43,"y":-0.91},{"x":2.445,"y":-0.94},{"x":2.46,"y":-0.97},{"x":2.475,"y":-1.0},{"x":2.49,"y":-1.03},{"x":2.505,"y":-1.07},{"x":2.52,"y":-1.1},{"x":2.535,"y":-1.13},{"x":2.55,"y":-1.16},{"x":2.565,"y":-1.19},{"x":2.58,"y":-1.22},{"x":2.595,"y":-1.25},{"x":2.61,"y":-1.29},{"x":2.625,"y":-1.32},{"x":2.64,"y":-1.35},{"x":2.655,"y":-1.38},{"x":2.67,"y":-1.41},{"x":2.685,"y":-1.44},{"x":2.7,"y":-1.47},
{"x":2.16,"y":0.14},{"x":2.175,"y":0.11},{"x":2.19,"y":0.08},{"x":2.205,"y":0.05},{"x":2.22,"y":0.01},{"x":2.235,"y":-0.02},{"x":2.25,"y":-0.05},{"x":2.265,"y":-0.08},{"x":2.28,"y":-0.11},{"x":2.295,"y":-0.14},{"x":2.31,"y":-0.18},{"x":2.325,"y":-0.21},{"x":2.34,"y":-0.24},{"x":2.355,"y":-0.27},{"x":2.37,"y":-0.3},{"x":2.385,"y":-0.33},{"x":2.4,"y":-0.36},{"x":2.415,"y":-0.4},{"x":2.43,"y":-0.43},{"x":2.445,"y":-0.46},{"x":2.46,"y":-0.49},{"x":2.475,"y":-0.52},{"x":2.49,"y":-0.55},{"x":2.505,"y":-0.59},{"x":2.52,"y":-0.62},{"x":2.535,"y":-0.65},{"x":2.55,"y":-0.68},{"x":2.565,"y":-0.71},{"x":2.58,"y":-0.74},{"x":2.595,"y":-0.77},{"x":2.61,"y":-0.81},{"x":2.625,"y":-0.84},{"x":2.64,"y":-0.87},{"x":2.655,"y":-0.9},{"x":2.67,"y":-0.93},{"x":2.685,"y":-0.96},{"x":2.7,"y":-0.99},{"x":2.715,"y":-1.03},
{"x":2.175,"y":0.52},{"x":2.19,"y":0.49},{"x":2.205,"y":0.46},{"x":2.22,"y":0.42},{"x":2.235,"y":0.39},{"x":2.25,"y":0.36},{"x":2.265,"y":0.33},{"x":2.28,"y":0.3},{"x":2.295,"y":0.27},{"x":2.31,"y":0.24},{"x":2.325,"y":0.2},{"x":2.34,"y":0.17},{"x":2.355,"y":0.14},{"x":2.37,"y":0.11},{"x":2.385,"y":0.08},{"x":2.4,"y":0.05},{"x":2.415,"y":0.01},{"x":2.43,"y":-0.02},{"x":2.445,"y":-0.05},{"x":2.46,"y":-0.08},{"x":2.475,"y":-0.11},{"x":2.49,"y":-0.14},{"x":2.505,"y":-0.18},{"x":2.52,"y":-0.21},{"x":2.535,"y":-0.24},{"x":2.55,"y":-0.27},{"x":2.565,"y":-0.3},{"x":2.58,"y":-0.33},{"x":2.595,"y":-0.36},{"x":2.61,"y":-0.4},{"x":2.625,"y":-0.43},{"x":2.64,"y":-0.46},{"x":2.655,"y":-0.49},{"x":2.67,"y":-0.52},{"x":2.685,"y":-0.55},{"x":2.7,"y":-0.58},{"x":2.715,"y":-0.62},{"x":2.73,"y":-0.65},
{"x":2.19,"y":0.92},{"x":2.205,"y":0.89},{"x":2.22,"y":0.85},{"x":2.235,"y":0.82},{"x":2.25,"y":0.79},{"x":2.265,"y":0.76},{"x":2.28,"y":0.73},{"x":2.295,"y":0.7},{"x":2.31,"y":0.67},{"x":2.325,"y":0.63},{"x":2.34,"y":0.6},{"x":2.355,"y":0.57},{"x":2.37,"y":0.54},{"x":2.385,"y":0.51},{"x":2.4,"y":0.48},{"x":2.415,"y":0.44},{"x":2.43,"y":0.41},{"x":2.445,"y":0.38},{"x":2.46,"y":0.35},{"x":2.475,"y":0.32},{"x":2.49,"y":0.29},{"x":2.505,"y":0.26},{"x":2.52,"y":0.22},{"x":2.535,"y":0.19},{"x":2.55,"y":0.16},{"x":2.565,"y":0.13},{"x":2.58,"y":0.1},{"x":2.595,"y":0.07},{"x":2.61,"y":0.04},{"x":2.625,"y":0},{"x":2.64,"y":-0.03},{"x":2.655,"y":-0.06},{"x":2.67,"y":-0.09},{"x":2.685,"y":-0.12},{"x":2.7,"y":-0.15},{"x":2.715,"y":-0.19},{"x":2.73,"y":-0.22},
{"x":2.205,"y":1.24},{"x":2.22,"y":1.2},{"x":2.235,"y":1.17},{"x":2.25,"y":1.14},{"x":2.265,"y":1.11},{"x":2.28,"y":1.08},{"x":2.295,"y":1.05},{"x":2.31,"y":1.02},{"x":2.325,"y":0.98},{"x":2.34,"y":0.95},{"x":2.355,"y":0.92},{"x":2.37,"y":0.89},{"x":2.385,"y":0.86},{"x":2.4,"y":0.83},{"x":2.415,"y":0.79},{"x":2.43,"y":0.76},{"x":2.445,"y":0.73},{"x":2.46,"y":0.7},{"x":2.475,"y":0.67},{"x":2.49,"y":0.64},{"x":2.505,"y":0.61},{"x":2.52,"y":0.57},{"x":2.535,"y":0.54},{"x":2.55,"y":0.51},{"x":2.565,"y":0.48},{"x":2.58,"y":0.45},{"x":2.595,"y":0.42},{"x":2.61,"y":0.39},{"x":2.625,"y":0.35},{"x":2.64,"y":0.32},{"x":2.655,"y":0.29},{"x":2.67,"y":0.26},{"x":2.685,"y":0.23},{"x":2.7,"y":0.2},{"x":2.715,"y":0.16},{"x":2.73,"y":0.13},
{"x":2.22,"y":1.52},{"x":2.235,"y":1.49},{"x":2.25,"y":1.46},{"x":2.265,"y":1.43},{"x":2.28,"y":1.4},{"x":2.295,"y":1.37},{"x":2.31,"y":1.34},{"x":2.325,"y":1.3},{"x":2.34,"y":1.27},{"x":2.355,"y":1.24},{"x":2.37,"y":1.21},{"x":2.385,"y":1.18},{"x":2.4,"y":1.15},{"x":2.415,"y":1.11},{"x":2.43,"y":1.08},{"x":2.445,"y":1.05},{"x":2.46,"y":1.02},{"x":2.475,"y":0.99},{"x":2.49,"y":0.96},{"x":2.505,"y":0.93},{"x":2.52,"y":0.89},{"x":2.535,"y":0.86},{"x":2.55,"y":0.83},{"x":2.565,"y":0.8},{"x":2.58,"y":0.77},{"x":2.595,"y":0.74},{"x":2.61,"y":0.71},{"x":2.625,"y":0.67},{"x":2.64,"y":0.64},{"x":2.655,"y":0.61},{"x":2.67,"y":0.58},{"x":2.685,"y":0.55},{"x":2.7,"y":0.52},{"x":2.715,"y":0.48},{"x":2.73,"y":0.45},
{"x":2.235,"y":1.81},{"x":2.25,"y":1.78},{"x":2.265,"y":1.75},{"x":2.28,"y":1.72},{"x":2.295,"y":1.69},{"x":2.31,"y":1.66},{"x":2.325,"y":1.62},{"x":2.34,"y":1.59},{"x":2.355,"y":1.56},{"x":2.37,"y":1.53},{"x":2.385,"y":1.5},{"x":2.4,"y":1.47},{"x":2.415,"y":1.43},{"x":2.43,"y":1.4},{"x":2.445,"y":1.37},{"x":2.46,"y":1.34},{"x":2.475,"y":1.31},{"x":2.49,"y":1.28},{"x":2.505,"y":1.25},{"x":2.52,"y":1.21},{"x":2.535,"y":1.18},{"x":2.55,"y":1.15},{"x":2.565,"y":1.12},{"x":2.58,"y":1.09},{"x":2.595,"y":1.06},{"x":2.61,"y":1.03},{"x":2.625,"y":0.99},{"x":2.64,"y":0.96},{"x":2.655,"y":0.93},{"x":2.67,"y":0.9},{"x":2.685,"y":0.87},{"x":2.7,"y":0.84},{"x":2.715,"y":0.8},{"x":2.73,"y":0.77},
{"x":2.28,"y":2.02},{"x":2.295,"y":1.99},{"x":2.31,"y":1.96},{"x":2.325,"y":1.92},{"x":2.34,"y":1.89},{"x":2.355,"y":1.86},{"x":2.37,"y":1.83},{"x":2.385,"y":1.8},{"x":2.4,"y":1.77},{"x":2.415,"y":1.73},{"x":2.43,"y":1.7},{"x":2.445,"y":1.67},{"x":2.46,"y":1.64},{"x":2.475,"y":1.61},{"x":2.49,"y":1.58},{"x":2.505,"y":1.55},{"x":2.52,"y":1.51},{"x":2.535,"y":1.48},{"x":2.55,"y":1.45},{"x":2.565,"y":1.42},{"x":2.58,"y":1.39},{"x":2.595,"y":1.36},{"x":2.61,"y":1.33},{"x":2.625,"y":1.29},{"x":2.64,"y":1.26},{"x":2.655,"y":1.23},{"x":2.67,"y":1.2},{"x":2.685,"y":1.17},{"x":2.7,"y":1.14},{"x":2.715,"y":1.1},{"x":2.73,"y":1.07},
{"x":2.34,"y":2.17},{"x":2.37,"y":2.11},{"x":2.385,"y":2.08},{"x":2.4,"y":2.05},{"x":2.43,"y":1.98},{"x":2.445,"y":1.95},{"x":2.46,"y":1.92},{"x":2.475,"y":1.89},{"x":2.505,"y":1.83},{"x":2.52,"y":1.79},{"x":2.535,"y":1.76},{"x":2.565,"y":1.7},{"x":2.58,"y":1.67},{"x":2.595,"y":1.64},{"x":2.61,"y":1.61},{"x":2.625,"y":1.57},{"x":2.64,"y":1.54},{"x":2.655,"y":1.51},{"x":2.685,"y":1.45},{"x":2.7,"y":1.42},{"x":2.715,"y":1.38},
{"x":2.4,"y":2.32},{"x":2.43,"y":2.25},{"x":2.46,"y":2.19},{"x":2.475,"y":2.16},{"x":2.49,"y":2.13},{"x":2.52,"y":2.06},{"x":2.55,"y":2.0},{"x":2.565,"y":1.97},{"x":2.595,"y":1.91},{"x":2.61,"y":1.88},{"x":2.64,"y":1.81},{"x":2.67,"y":1.75},{"x":2.685,"y":1.72},
{"x":2.46,"y":2.47},{"x":2.49,"y":2.41},{"x":2.505,"y":2.38},{"x":2.535,"y":2.31},{"x":2.565,"y":2.25},{"x":2.58,"y":2.22},{"x":2.61,"y":2.15},{"x":2.625,"y":2.12},
{"x":2.333,"y":2.88},{"x":2.333,"y":2.65},{"x":2.39,"y":2.44},{"x":2.594,"y":2.88},{"x":2.622,"y":2.59},{"x":2.606,"y":2.36},{"x":2.483,"y":2.59},{"x":2.49,"y":2.3},{"x":2.5,"y":2.3},{"x":2.744,"y":2.34},{"x":2.726,"y":1.8},{"x":2.66,"y":1.94},{"x":2.675,"y":1.92},{"x":2.194,"y":2.19},{"x":2.25,"y":2.08},{"x":2.283,"y":2.42},{"x":2.29,"y":2.43},{"x":2.178,"y":0.57},{"x":2.748,"y":0.86},{"x":2.733,"y":0.2},{"x":2.73,"y":-0.15},{"x":2.73,"y":-0.55},{"x":2.192,"y":-2.41},{"x":2.252,"y":-2.5},{"x":2.478,"y":-3.0},{"x":2.508,"y":-3.03},{"x":2.7,"y":-3.43},{"x":2.726,"y":-2.61},{"x":2.726,"y":-2.64},{"x":2.789,"y":-2.16},{"x":2.756,"y":-1.53},{"x":2.578,"y":-2.35},{"x":2.594,"y":-2.41},{"x":2.608,"y":-2.43},{"x":2.617,"y":-2.41},{"x":2.66,"y":-2.52},{"x":2.67,"y":-2.5},{"x":2.64,"y":-2.45},{"x":2.72,"y":-1.0},{"x":2.73,"y":-1.02},
{"x":2.168,"y":-1.61},{"x":2.183,"y":-1.64},{"x":2.198,"y":-1.67},{"x":2.213,"y":-1.71},{"x":2.228,"y":-1.74},{"x":2.243,"y":-1.77},{"x":2.258,"y":-1.8},{"x":2.273,"y":-1.83},{"x":2.288,"y":-1.86},{"x":2.303,"y":-1.89},{"x":2.318,"y":-1.93},
{"x":2.168,"y":-0.97},{"x":2.183,"y":-1.0},{"x":2.198,"y":-1.03},{"x":2.213,"y":-1.07},{"x":2.228,"y":-1.1},{"x":2.243,"y":-1.13},{"x":2.258,"y":-1.16},{"x":2.273,"y":-1.19},{"x":2.288,"y":-1.22},{"x":2.303,"y":-1.25},{"x":2.318,"y":-1.29},{"x":2.333,"y":-1.32},{"x":2.348,"y":-1.35},{"x":2.363,"y":-1.38},{"x":2.378,"y":-1.41},{"x":2.393,"y":-1.44},{"x":2.408,"y":-1.47},{"x":2.423,"y":-1.51},{"x":2.438,"y":-1.54},{"x":2.453,"y":-1.57},{"x":2.468,"y":-1.6},{"x":2.483,"y":-1.63},{"x":2.498,"y":-1.66},{"x":2.513,"y":-1.7},{"x":2.528,"y":-1.73},{"x":2.543,"y":-1.76},{"x":2.558,"y":-1.79},{"x":2.573,"y":-1.82},
{"x":2.168,"y":-0.43},{"x":2.183,"y":-0.46},{"x":2.198,"y":-0.49},{"x":2.213,"y":-0.53},{"x":2.228,"y":-0.56},{"x":2.243,"y":-0.59},{"x":2.258,"y":-0.62},{"x":2.273,"y":-0.65},{"x":2.288,"y":-0.68},{"x":2.303,"y":-0.71},{"x":2.318,"y":-0.75},{"x":2.333,"y":-0.78},{"x":2.348,"y":-0.81},{"x":2.363,"y":-0.84},{"x":2.378,"y":-0.87},{"x":2.393,"y":-0.9},{"x":2.408,"y":-0.93},{"x":2.423,"y":-0.97},{"x":2.438,"y":-1.0},{"x":2.453,"y":-1.03},{"x":2.468,"y":-1.06},{"x":2.483,"y":-1.09},{"x":2.498,"y":-1.12},{"x":2.513,"y":-1.16},{"x":2.528,"y":-1.19},{"x":2.543,"y":-1.22},{"x":2.558,"y":-1.25},{"x":2.573,"y":-1.28},{"x":2.588,"y":-1.31},{"x":2.603,"y":-1.34},{"x":2.618,"y":-1.38},{"x":2.633,"y":-1.41},{"x":2.648,"y":-1.44},{"x":2.663,"y":-1.47},{"x":2.678,"y":-1.5},{"x":2.693,"y":-1.53},{"x":2.708,"y":-1.56},
{"x":2.168,"y":0.05},{"x":2.183,"y":0.02},{"x":2.198,"y":-0.01},{"x":2.213,"y":-0.04},{"x":2.228,"y":-0.08},{"x":2.243,"y":-0.11},{"x":2.258,"y":-0.14},{"x":2.273,"y":-0.17},{"x":2.288,"y":-0.2},{"x":2.303,"y":-0.23},{"x":2.318,"y":-0.27},{"x":2.333,"y":-0.3},{"x":2.348,"y":-0.33},{"x":2.363,"y":-0.36},{"x":2.378,"y":-0.39},{"x":2.393,"y":-0.42},{"x":2.408,"y":-0.45},{"x":2.423,"y":-0.49},{"x":2.438,"y":-0.52},{"x":2.453,"y":-0.55},{"x":2.468,"y":-0.58},{"x":2.483,"y":-0.61},{"x":2.498,"y":-0.64},{"x":2.513,"y":-0.68},{"x":2.528,"y":-0.71},{"x":2.543,"y":-0.74},{"x":2.558,"y":-0.77},{"x":2.573,"y":-0.8},{"x":2.588,"y":-0.83},{"x":2.603,"y":-0.86},{"x":2.618,"y":-0.9},{"x":2.633,"y":-0.93},{"x":2.648,"y":-0.96},{"x":2.663,"y":-0.99},{"x":2.678,"y":-1.02},{"x":2.693,"y":-1.05},{"x":2.708,"y":-1.08},{"x":2.723,"y":-1.12},
{"x":2.183,"y":0.43},{"x":2.198,"y":0.4},{"x":2.213,"y":0.37},{"x":2.228,"y":0.33},{"x":2.243,"y":0.3},{"x":2.258,"y":0.27},{"x":2.273,"y":0.24},{"x":2.288,"y":0.21},{"x":2.303,"y":0.18},{"x":2.318,"y":0.15},{"x":2.333,"y":0.11},{"x":2.348,"y":0.08},{"x":2.363,"y":0.05},{"x":2.378,"y":0.02},{"x":2.393,"y":-0.01},{"x":2.408,"y":-0.04},{"x":2.423,"y":-0.08},{"x":2.438,"y":-0.11},{"x":2.453,"y":-0.14},{"x":2.468,"y":-0.17},{"x":2.483,"y":-0.2},{"x":2.498,"y":-0.23},{"x":2.513,"y":-0.27},{"x":2.528,"y":-0.3},{"x":2.543,"y":-0.33},{"x":2.558,"y":-0.36},{"x":2.573,"y":-0.39},{"x":2.588,"y":-0.42},{"x":2.603,"y":-0.45},{"x":2.618,"y":-0.49},{"x":2.633,"y":-0.52},{"x":2.648,"y":-0.55},{"x":2.663,"y":-0.58},{"x":2.678,"y":-0.61},{"x":2.693,"y":-0.64},{"x":2.708,"y":-0.67},{"x":2.723,"y":-0.71},{"x":2.738,"y":-0.74},
{"x":2.198,"y":0.83},{"x":2.213,"y":0.8},{"x":2.228,"y":0.76},{"x":2.243,"y":0.73},{"x":2.258,"y":0.7},{"x":2.273,"y":0.67},{"x":2.288,"y":0.64},{"x":2.303,"y":0.61},{"x":2.318,"y":0.58},{"x":2.333,"y":0.54},{"x":2.348,"y":0.51},{"x":2.363,"y":0.48},{"x":2.378,"y":0.45},{"x":2.393,"y":0.42},{"x":2.408,"y":0.39},{"x":2.423,"y":0.35},{"x":2.438,"y":0.32},{"x":2.453,"y":0.29},{"x":2.468,"y":0.26},{"x":2.483,"y":0.23},{"x":2.498,"y":0.2},{"x":2.513,"y":0.17},{"x":2.528,"y":0.13},{"x":2.543,"y":0.1},{"x":2.558,"y":0.07},{"x":2.573,"y":0.04},{"x":2.588,"y":0.01},{"x":2.603,"y":-0.02},{"x":2.618,"y":-0.05},{"x":2.633,"y":-0.09},{"x":2.648,"y":-0.12},{"x":2.663,"y":-0.15},{"x":2.678,"y":-0.18},{"x":2.693,"y":-0.21},{"x":2.708,"y":-0.24},{"x":2.723,"y":-0.28},{"x":2.738,"y":-0.31},
{"x":2.213,"y":1.15},{"x":2.228,"y":1.11},{"x":2.243,"y":1.08},{"x":2.258,"y":1.05},{"x":2.273,"y":1.02},{"x":2.288,"y":0.99},{"x":2.303,"y":0.96},{"x":2.318,"y":0.93},{"x":2.333,"y":0.89},{"x":2.348,"y":0.86},{"x":2.363,"y":0.83},{"x":2.378,"y":0.8},{"x":2.393,"y":0.77},{"x":2.408,"y":0.74},{"x":2.423,"y":0.7},{"x":2.438,"y":0.67},{"x":2.453,"y":0.64},{"x":2.468,"y":0.61},{"x":2.483,"y":0.58},{"x":2.498,"y":0.55},{"x":2.513,"y":0.52},{"x":2.528,"y":0.48},{"x":2.543,"y":0.45},{"x":2.558,"y":0.42},{"x":2.573,"y":0.39},{"x":2.588,"y":0.36},{"x":2.603,"y":0.33},{"x":2.618,"y":0.3},{"x":2.633,"y":0.26},{"x":2.648,"y":0.23},{"x":2.663,"y":0.2},{"x":2.678,"y":0.17},{"x":2.693,"y":0.14},{"x":2.708,"y":0.11},{"x":2.723,"y":0.07},{"x":2.738,"y":0.04},
{"x":2.228,"y":1.43},{"x":2.243,"y":1.4},{"x":2.258,"y":1.37},{"x":2.273,"y":1.34},{"x":2.288,"y":1.31},{"x":2.303,"y":1.28},{"x":2.318,"y":1.25},{"x":2.333,"y":1.21},{"x":2.348,"y":1.18},{"x":2.363,"y":1.15},{"x":2.378,"y":1.12},{"x":2.393,"y":1.09},{"x":2.408,"y":1.06},{"x":2.423,"y":1.02},{"x":2.438,"y":0.99},{"x":2.453,"y":0.96},{"x":2.468,"y":0.93},{"x":2.483,"y":0.9},{"x":2.498,"y":0.87},{"x":2.513,"y":0.84},{"x":2.528,"y":0.8},{"x":2.543,"y":0.77},{"x":2.558,"y":0.74},{"x":2.573,"y":0.71},{"x":2.588,"y":0.68},{"x":2.603,"y":0.65},{"x":2.618,"y":0.62},{"x":2.633,"y":0.58},{"x":2.648,"y":0.55},{"x":2.663,"y":0.52},{"x":2.678,"y":0.49},{"x":2.693,"y":0.46},{"x":2.708,"y":0.43},{"x":2.723,"y":0.39},{"x":2.738,"y":0.36}
]
},
"concat":[
{"title":{"text":"Zone 1","offset":21},"width":202,"height":200,"data":{"name":"p1"},"layer":[
{"mark":{"type":"point"},"encoding":{
"x":{"field":"x","type":"quantitative","scale":{"domain":[5.62,10.08],"nice":false,"zero":false},"axis":{"title":"Tree Fitted values","values":[6,7,8,9,10],"tickCount":20,"format":"d","labelOverlap":false,"labelFlush":false}},
"y":{"field":"y","type":"quantitative","scale":{"domain":[-3.11,3.02],"nice":false,"zero":false},"axis":{"title":"Standardized residuals","values":[-3,-2,-1,0,1,2,3],"tickCount":20,"format":"d","labelOverlap":false}}}},
{"data":{"values":[{}]},"mark":{"type":"rule","color":"black","strokeWidth":1},"encoding":{"y":{"datum":0}}}]},
{"title":{"text":"Zone 1","offset":25},"width":202,"height":200,"data":{"name":"p2"},"layer":[
{"mark":{"type":"point"},"encoding":{
"x":{"field":"x","type":"quantitative","scale":{"domain":[2.891,3.5],"nice":false,"zero":false},"axis":{"title":"Seedling Fitted values","values":[2.9,3.0,3.1,3.2,3.3,3.4],"tickCount":20,"format":".1f","labelExpr":"round(datum.value*10)%2==1 ? datum.label : ''","labelOverlap":false,"labelFlush":false}},
"y":{"field":"y","type":"quantitative","scale":{"domain":[-2.71,3.35],"nice":false,"zero":false},"axis":{"title":"Standardized residuals","values":[-2,-1,0,1,2,3],"tickCount":20,"format":"d","labelOverlap":false}}}},
{"data":{"values":[{}]},"mark":{"type":"rule","color":"black","strokeWidth":1},"encoding":{"y":{"datum":0}}}]},
{"title":{"text":"Zone 2","offset":25},"width":202,"height":200,"data":{"name":"p3"},"layer":[
{"mark":{"type":"point"},"encoding":{
"x":{"field":"x","type":"quantitative","scale":{"domain":[2.594,4.334],"nice":false,"zero":false},"axis":{"title":"Tree Fitted values","values":[3.0,3.5,4.0],"tickCount":20,"format":".1f","labelOverlap":false,"labelFlush":false}},
"y":{"field":"y","type":"quantitative","scale":{"domain":[-3.45,4.39],"nice":false,"zero":false},"axis":{"title":"Standardized residuals","values":[-3,-2,-1,0,1,2,3,4],"tickCount":20,"format":"d","labelExpr":"datum.value==-2 ? '' : datum.label","labelOverlap":false}}}},
{"data":{"values":[{}]},"mark":{"type":"rule","color":"black","strokeWidth":1},"encoding":{"y":{"datum":0}}}]},
{"title":{"text":"Zone 2","offset":25},"width":202,"height":200,"data":{"name":"p4"},"layer":[
{"mark":{"type":"point"},"encoding":{
"x":{"field":"x","type":"quantitative","scale":{"domain":[2.231,2.742],"nice":false,"zero":false},"axis":{"title":"Seedling Fitted values","values":[2.3,2.4,2.5,2.6,2.7],"tickCount":20,"format":".1f","labelOverlap":false,"labelFlush":false}},
"y":{"field":"y","type":"quantitative","scale":{"domain":[-3.03,3.28],"nice":false,"zero":false},"axis":{"title":"Standardized residuals","values":[-3,-2,-1,0,1,2,3],"tickCount":20,"format":"d","labelOverlap":false}}}},
{"data":{"values":[{}]},"mark":{"type":"rule","color":"black","strokeWidth":1},"encoding":{"y":{"datum":0}}}]},
{"title":{"text":"Zone 3","offset":25},"width":202,"height":200,"data":{"name":"p5"},"layer":[
{"mark":{"type":"point"},"encoding":{
"x":{"field":"x","type":"quantitative","scale":{"domain":[2.312,4.235],"nice":false,"zero":false},"axis":{"title":"Tree Fitted values","values":[2.5,3.0,3.5,4.0],"tickCount":20,"format":".1f","labelOverlap":false,"labelFlush":false}},
"y":{"field":"y","type":"quantitative","scale":{"domain":[-3.35,3.45],"nice":false,"zero":false},"axis":{"title":"Standardized residuals","values":[-3,-2,-1,0,1,2,3],"tickCount":20,"format":"d","labelOverlap":false}}}},
{"data":{"values":[{}]},"mark":{"type":"rule","color":"black","strokeWidth":1},"encoding":{"y":{"datum":0}}}]},
{"title":{"text":"Zone 3","offset":24},"width":202,"height":200,"data":{"name":"p6"},"layer":[
{"mark":{"type":"point"},"encoding":{
"x":{"field":"x","type":"quantitative","scale":{"domain":[2.142,2.817],"nice":false,"zero":false},"axis":{"title":"Seedling Fitted values","values":[2.2,2.3,2.4,2.5,2.6,2.7,2.8],"tickCount":20,"format":".1f","labelExpr":"round(datum.value*10)%2==0 ? datum.label : ''","labelOverlap":false,"labelFlush":false}},
"y":{"field":"y","type":"quantitative","scale":{"domain":[-3.69,3.1],"nice":false,"zero":false},"axis":{"title":"Standardized residuals","values":[-3,-2,-1,0,1,2,3],"tickCount":20,"format":"d","labelOverlap":false}}}},
{"data":{"values":[{}]},"mark":{"type":"rule","color":"black","strokeWidth":1},"encoding":{"y":{"datum":0}}}]}
]
}
